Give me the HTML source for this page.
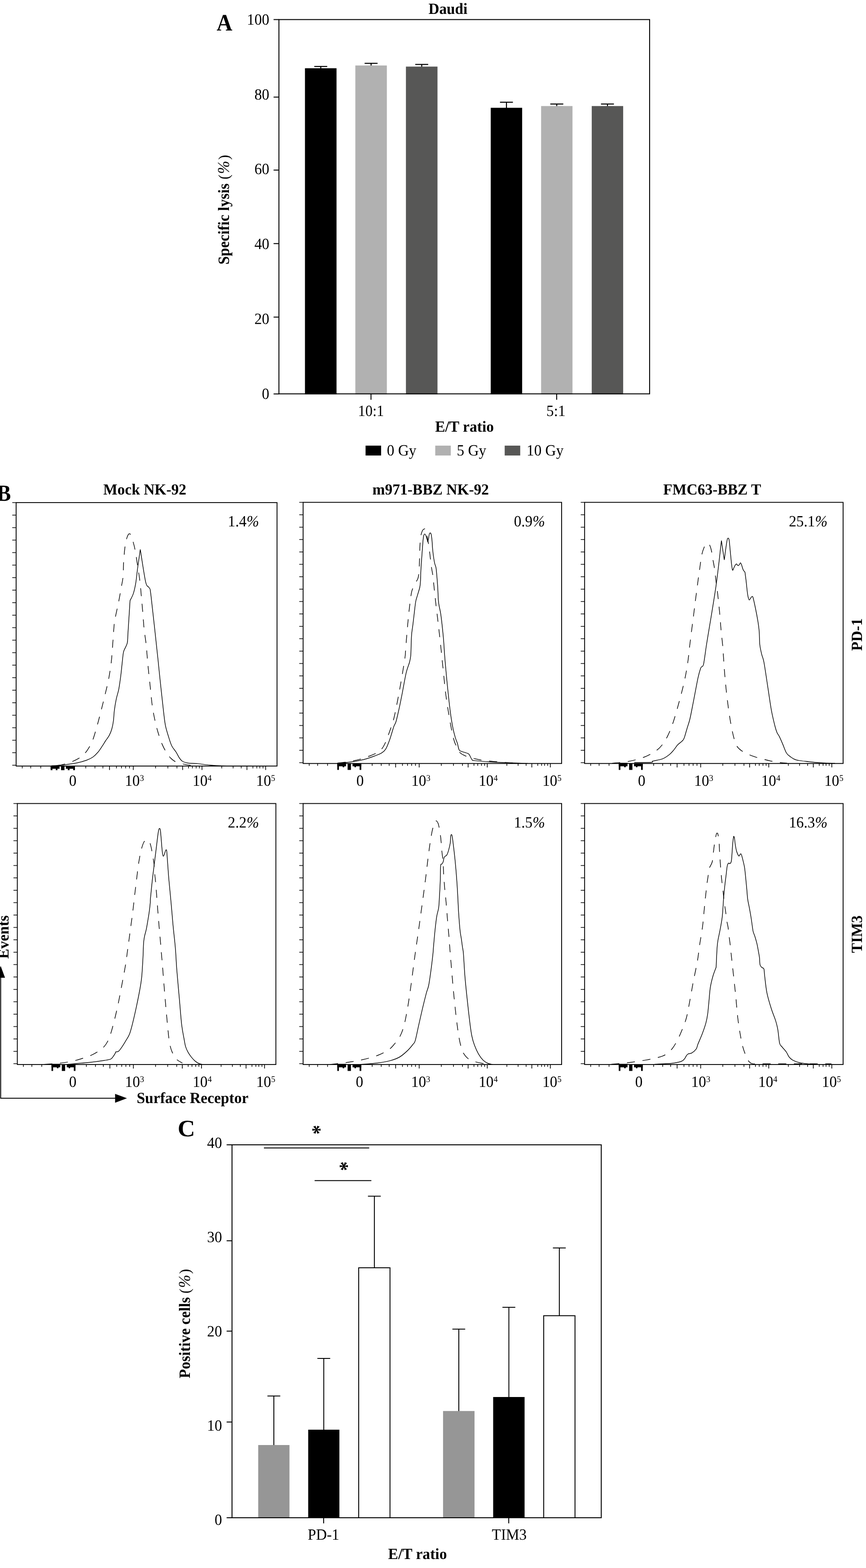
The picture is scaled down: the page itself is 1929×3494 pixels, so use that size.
<!DOCTYPE html>
<html lang="en"><head><meta charset="utf-8"><title>Figure</title>
<style>
html,body{margin:0;padding:0;background:#fff;}
body{width:1929px;height:3494px;overflow:hidden;}
svg{display:block;font-family:'Liberation Serif', serif;text-rendering:geometricPrecision;}
svg text{fill:#000;}
svg line{stroke:#000;}
</style></head><body>
<svg width="1929" height="3494" viewBox="0 0 1929 3494">
<rect width="1929" height="3494" fill="#fff"/>
<g id="panelA">
<text transform="translate(482.6 68.1) scale(1 1.083)" font-size="48.6" font-weight="bold">A</text>
<text transform="translate(997.9 31.3) scale(1 1.05)" font-size="33.2" font-weight="bold" text-anchor="middle">Daudi</text>
<line x1="714.5" y1="148.1" x2="714.5" y2="153.1" stroke-width="2.3"/>
<line x1="700.1" y1="148.1" x2="728.9" y2="148.1" stroke-width="2.3"/>
<rect x="679.3" y="152.1" width="70.3" height="726.5" fill="#000" stroke="none"/>
<line x1="826.6" y1="141.1" x2="826.6" y2="146.9" stroke-width="2.3"/>
<line x1="812.2" y1="141.1" x2="841.0" y2="141.1" stroke-width="2.3"/>
<rect x="791.5" y="145.9" width="70.2" height="732.7" fill="#b1b1b1" stroke="none"/>
<line x1="939.4" y1="143.6" x2="939.4" y2="149.4" stroke-width="2.3"/>
<line x1="925.0" y1="143.6" x2="953.8" y2="143.6" stroke-width="2.3"/>
<rect x="904.2" y="148.4" width="70.3" height="730.2" fill="#575756" stroke="none"/>
<line x1="1128.1" y1="227.8" x2="1128.1" y2="241.2" stroke-width="2.3"/>
<line x1="1113.7" y1="227.8" x2="1142.5" y2="227.8" stroke-width="2.3"/>
<rect x="1093.1" y="240.2" width="70.0" height="638.4" fill="#000" stroke="none"/>
<line x1="1240.2" y1="231.8" x2="1240.2" y2="237.3" stroke-width="2.3"/>
<line x1="1225.8" y1="231.8" x2="1254.7" y2="231.8" stroke-width="2.3"/>
<rect x="1205.3" y="236.3" width="69.9" height="642.3" fill="#b1b1b1" stroke="none"/>
<line x1="1353.1" y1="231.8" x2="1353.1" y2="237.3" stroke-width="2.3"/>
<line x1="1338.7" y1="231.8" x2="1367.5" y2="231.8" stroke-width="2.3"/>
<rect x="1318.1" y="236.3" width="70.0" height="642.3" fill="#575756" stroke="none"/>
<rect x="621.3" y="43.6" width="825.7" height="834.0" fill="none" stroke="#000" stroke-width="2.1"/>
<line x1="609.4" y1="43.6" x2="621.3" y2="43.6" stroke-width="2.1"/>
<text transform="translate(600 55.0) scale(1 1.05)" font-size="33.3" text-anchor="end">100</text>
<line x1="609.4" y1="216.4" x2="621.3" y2="216.4" stroke-width="2.1"/>
<text transform="translate(600 221.7) scale(1 1.05)" font-size="33.3" text-anchor="end">80</text>
<line x1="609.4" y1="379.0" x2="621.3" y2="379.0" stroke-width="2.1"/>
<text transform="translate(600 388.4) scale(1 1.05)" font-size="33.3" text-anchor="end">60</text>
<line x1="609.4" y1="542.8" x2="621.3" y2="542.8" stroke-width="2.1"/>
<text transform="translate(600 555.1) scale(1 1.05)" font-size="33.3" text-anchor="end">40</text>
<line x1="609.4" y1="706.6" x2="621.3" y2="706.6" stroke-width="2.1"/>
<text transform="translate(600 721.8) scale(1 1.05)" font-size="33.3" text-anchor="end">20</text>
<line x1="609.4" y1="877.8" x2="621.3" y2="877.8" stroke-width="2.1"/>
<text transform="translate(600 888.5) scale(1 1.05)" font-size="33.3" text-anchor="end">0</text>
<line x1="826.4" y1="877.6" x2="826.4" y2="890.8" stroke-width="2.1"/>
<line x1="1240.0" y1="877.6" x2="1240.0" y2="890.8" stroke-width="2.1"/>
<text transform="translate(826.4 926.9) scale(1 1.05)" font-size="33.3" text-anchor="middle" textLength="57.8" lengthAdjust="spacingAndGlyphs">10:1</text>
<text transform="translate(1238.4 926.9) scale(1 1.05)" font-size="33.3" text-anchor="middle">5:1</text>
<text transform="translate(1034.6 961.7) scale(1 1.03)" font-size="33.6" font-weight="bold" text-anchor="middle">E/T ratio</text>
<text transform="translate(510.2 589.6) rotate(-90) scale(1 1.05)" font-size="33.4" font-weight="bold">Specific lysis <tspan x="189.8" font-weight="normal" font-size="32.5">(</tspan><tspan x="202.2" font-weight="normal" font-style="italic" font-size="35">%</tspan><tspan x="233.5" font-weight="normal" font-size="32.5">)</tspan></text>
<rect x="814.3" y="993.0" width="34.6" height="22.0" fill="#000" stroke="none"/>
<text transform="translate(861.8 1014.8) scale(1 1.05)" font-size="33.3">0 Gy</text>
<rect x="969.5" y="993.0" width="34.6" height="22.0" fill="#b1b1b1" stroke="none"/>
<text transform="translate(1017.5 1014.8) scale(1 1.05)" font-size="33.3">5 Gy</text>
<rect x="1124.2" y="993.0" width="34.6" height="22.0" fill="#575756" stroke="none"/>
<text transform="translate(1173.0 1014.8) scale(1 1.05)" font-size="33.3">10 Gy</text>
</g>
<g id="panelB">
<text transform="translate(-6.85 1115.95) scale(1 1.108)" font-size="46.5" font-weight="bold">B</text>
<text transform="translate(322.5 1102.4) scale(1 1.03)" font-size="33.5" font-weight="bold" text-anchor="middle">Mock NK-92</text>
<text transform="translate(959.3 1102.4) scale(1 1.03)" font-size="33.5" font-weight="bold" text-anchor="middle">m971-BBZ NK-92</text>
<text transform="translate(1586.4 1102.4) scale(1 1.03)" font-size="33.5" font-weight="bold" text-anchor="middle">FMC63-BBZ T</text>
<g id="hist1">
<path d="M116.9 1706.7C120.2 1706.3 130.0 1705.7 136.6 1704.4C143.2 1703.1 150.2 1701.0 156.3 1698.8C162.4 1696.6 167.9 1694.2 173.1 1691.2C178.2 1688.2 183.2 1684.4 187.2 1680.5C191.2 1676.6 193.7 1673.2 197.0 1667.8C200.3 1662.4 203.6 1656.9 206.9 1648.2C210.2 1639.5 213.6 1626.6 216.7 1615.8C219.8 1605.0 222.4 1594.5 225.2 1583.5C228.0 1572.5 230.8 1561.4 233.6 1549.7C236.4 1538.0 239.7 1525.3 242.0 1513.1C244.3 1500.9 246.3 1488.0 247.7 1476.6C249.1 1465.2 249.3 1458.9 250.4 1444.8C251.5 1430.7 253.2 1403.6 254.3 1392.0C255.4 1380.4 255.3 1383.8 257.0 1375.2C258.7 1366.6 262.1 1352.0 264.4 1340.4C266.7 1328.8 269.1 1314.6 270.7 1305.6C272.3 1296.6 273.1 1295.4 273.9 1286.6C274.7 1277.8 274.7 1263.7 275.4 1252.8C276.1 1241.9 277.0 1229.8 278.1 1221.2C279.2 1212.6 280.7 1206.0 281.9 1201.1C283.1 1196.2 284.5 1193.5 285.5 1191.6C286.5 1189.7 287.1 1189.5 288.0 1189.5C288.9 1189.5 289.3 1188.2 290.8 1191.6C292.3 1194.9 295.4 1203.6 297.1 1209.6C298.9 1215.6 299.7 1218.9 301.3 1227.5C302.9 1236.1 304.8 1249.7 306.6 1261.3C308.4 1272.9 310.5 1285.5 311.9 1297.1C313.3 1308.7 313.9 1319.3 315.0 1330.9C316.1 1342.5 317.2 1355.2 318.2 1366.8C319.2 1378.4 319.7 1388.9 320.9 1400.5C322.1 1412.1 324.5 1426.5 325.6 1436.4C326.7 1446.3 326.9 1451.4 327.6 1460.0C328.4 1468.6 328.9 1475.7 330.1 1487.8C331.3 1499.9 333.4 1518.7 334.9 1532.8C336.4 1546.9 337.5 1560.5 339.1 1572.2C340.7 1583.9 342.6 1593.4 344.7 1603.2C346.8 1613.0 349.0 1621.9 351.8 1631.3C354.6 1640.7 358.3 1651.7 361.6 1659.4C364.9 1667.1 368.1 1672.5 371.4 1677.7C374.7 1682.9 377.6 1686.9 381.3 1690.4C385.1 1693.9 388.3 1696.5 393.9 1698.8C399.5 1701.0 408.7 1702.7 415.0 1703.9C421.3 1705.1 429.1 1705.5 431.9 1705.8" fill="none" stroke="#000" stroke-width="1.45" stroke-dasharray="17.9 17" stroke-dashoffset="24.4"/>
<path d="M114.0 1706.5C118.2 1706.2 130.0 1705.5 139.4 1704.4C148.8 1703.4 161.4 1701.9 170.3 1700.2C179.2 1698.5 186.7 1696.2 192.8 1694.0C198.9 1691.8 202.7 1690.0 206.9 1687.0C211.1 1684.0 214.6 1680.4 218.1 1676.3C221.6 1672.2 225.2 1666.4 228.0 1662.2C230.8 1658.0 232.4 1655.0 235.0 1651.0C237.6 1647.0 241.2 1642.8 243.5 1638.3C245.8 1633.8 247.6 1629.6 249.1 1624.2C250.6 1618.8 251.8 1612.8 252.7 1606.0C253.6 1599.2 253.7 1591.5 254.7 1583.5C255.7 1575.5 257.2 1566.1 258.9 1558.1C260.5 1550.1 263.0 1544.0 264.6 1535.6C266.2 1527.2 267.5 1517.3 268.8 1507.5C270.1 1497.7 271.3 1484.5 272.2 1476.6C273.1 1468.7 273.4 1464.4 274.0 1460.0C274.6 1455.6 274.4 1454.5 276.0 1450.0C277.6 1445.5 281.9 1439.3 283.4 1433.2C284.9 1427.1 284.2 1423.6 284.9 1413.2C285.6 1402.8 286.8 1383.5 287.6 1371.0C288.4 1358.5 289.4 1343.8 289.7 1338.3C290.9 1335.7 295.0 1328.9 297.1 1322.4C299.2 1315.9 300.8 1308.7 302.4 1299.2C304.0 1289.7 304.9 1278.0 306.6 1265.5C308.3 1253.0 311.5 1231.2 312.5 1224.3C314.5 1236.4 321.2 1282.8 324.5 1297.1C327.8 1311.3 330.3 1304.5 332.3 1309.8C334.3 1315.1 333.4 1303.8 336.5 1328.8C339.6 1353.8 348.1 1434.4 350.9 1460.0C353.7 1485.6 351.9 1469.6 353.2 1482.2C354.5 1494.8 356.9 1518.2 358.8 1535.6C360.7 1552.9 362.8 1572.7 364.4 1586.3C366.0 1599.9 366.7 1607.8 368.6 1617.2C370.5 1626.6 373.4 1635.0 375.7 1642.5C378.0 1650.0 379.9 1656.6 382.7 1662.2C385.5 1667.8 389.7 1671.8 392.5 1676.3C395.3 1680.8 397.2 1685.6 399.6 1689.0C402.0 1692.4 403.6 1694.6 406.6 1696.5C409.7 1698.4 412.3 1699.4 417.9 1700.2C423.5 1701.0 432.9 1700.9 440.4 1701.6C447.9 1702.3 454.0 1703.6 462.9 1704.4C471.8 1705.2 477.6 1706.1 493.8 1706.5C510.0 1706.9 549.0 1706.8 560.0 1706.8" fill="none" stroke="#000" stroke-width="1.45"/>
<rect x="35.9" y="1119.9" width="581.2" height="587.1" fill="none" stroke="#000" stroke-width="1.9"/>
<line x1="27.3" y1="1705.2" x2="35.9" y2="1705.2" stroke-width="1.5"/>
<line x1="27.3" y1="1677.3" x2="35.9" y2="1677.3" stroke-width="1.5"/>
<line x1="27.3" y1="1649.5" x2="35.9" y2="1649.5" stroke-width="1.5"/>
<line x1="27.3" y1="1621.6" x2="35.9" y2="1621.6" stroke-width="1.5"/>
<line x1="27.3" y1="1593.7" x2="35.9" y2="1593.7" stroke-width="1.5"/>
<line x1="27.3" y1="1565.9" x2="35.9" y2="1565.9" stroke-width="1.5"/>
<line x1="27.3" y1="1538.0" x2="35.9" y2="1538.0" stroke-width="1.5"/>
<line x1="27.3" y1="1510.1" x2="35.9" y2="1510.1" stroke-width="1.5"/>
<line x1="27.3" y1="1482.2" x2="35.9" y2="1482.2" stroke-width="1.5"/>
<line x1="27.3" y1="1454.4" x2="35.9" y2="1454.4" stroke-width="1.5"/>
<line x1="27.3" y1="1426.5" x2="35.9" y2="1426.5" stroke-width="1.5"/>
<line x1="27.3" y1="1398.6" x2="35.9" y2="1398.6" stroke-width="1.5"/>
<line x1="27.3" y1="1370.8" x2="35.9" y2="1370.8" stroke-width="1.5"/>
<line x1="27.3" y1="1342.9" x2="35.9" y2="1342.9" stroke-width="1.5"/>
<line x1="27.3" y1="1315.0" x2="35.9" y2="1315.0" stroke-width="1.5"/>
<line x1="27.3" y1="1287.2" x2="35.9" y2="1287.2" stroke-width="1.5"/>
<line x1="27.3" y1="1259.3" x2="35.9" y2="1259.3" stroke-width="1.5"/>
<line x1="27.3" y1="1231.4" x2="35.9" y2="1231.4" stroke-width="1.5"/>
<line x1="27.3" y1="1203.5" x2="35.9" y2="1203.5" stroke-width="1.5"/>
<line x1="27.3" y1="1175.7" x2="35.9" y2="1175.7" stroke-width="1.5"/>
<line x1="27.3" y1="1147.8" x2="35.9" y2="1147.8" stroke-width="1.5"/>
<line x1="27.3" y1="1119.9" x2="35.9" y2="1119.9" stroke-width="1.5"/>
<line x1="49.5" y1="1707.0" x2="49.5" y2="1712.2" stroke-width="1.5"/>
<line x1="68.5" y1="1707.0" x2="68.5" y2="1712.2" stroke-width="1.5"/>
<line x1="90.8" y1="1707.0" x2="90.8" y2="1712.2" stroke-width="1.5"/>
<line x1="191.1" y1="1707.0" x2="191.1" y2="1712.2" stroke-width="1.5"/>
<line x1="211.5" y1="1707.0" x2="211.5" y2="1712.2" stroke-width="1.5"/>
<line x1="229.3" y1="1707.0" x2="229.3" y2="1712.2" stroke-width="1.5"/>
<line x1="259.3" y1="1707.0" x2="259.3" y2="1712.2" stroke-width="1.5"/>
<line x1="270.6" y1="1707.0" x2="270.6" y2="1712.2" stroke-width="1.5"/>
<line x1="279.9" y1="1707.0" x2="279.9" y2="1712.2" stroke-width="1.5"/>
<line x1="288.5" y1="1707.0" x2="288.5" y2="1712.2" stroke-width="1.5"/>
<line x1="346.6" y1="1707.0" x2="346.6" y2="1712.2" stroke-width="1.5"/>
<line x1="373.9" y1="1707.0" x2="373.9" y2="1712.2" stroke-width="1.5"/>
<line x1="394.2" y1="1707.0" x2="394.2" y2="1712.2" stroke-width="1.5"/>
<line x1="420.0" y1="1707.0" x2="420.0" y2="1712.2" stroke-width="1.5"/>
<line x1="428.5" y1="1707.0" x2="428.5" y2="1712.2" stroke-width="1.5"/>
<line x1="436.9" y1="1707.0" x2="436.9" y2="1712.2" stroke-width="1.5"/>
<line x1="444.0" y1="1707.0" x2="444.0" y2="1712.2" stroke-width="1.5"/>
<line x1="494.0" y1="1707.0" x2="494.0" y2="1712.2" stroke-width="1.5"/>
<line x1="519.3" y1="1707.0" x2="519.3" y2="1712.2" stroke-width="1.5"/>
<line x1="537.3" y1="1707.0" x2="537.3" y2="1712.2" stroke-width="1.5"/>
<line x1="563.4" y1="1707.0" x2="563.4" y2="1712.2" stroke-width="1.5"/>
<line x1="572.1" y1="1707.0" x2="572.1" y2="1712.2" stroke-width="1.5"/>
<line x1="578.7" y1="1707.0" x2="578.7" y2="1712.2" stroke-width="1.5"/>
<line x1="585.8" y1="1707.0" x2="585.8" y2="1712.2" stroke-width="1.5"/>
<line x1="243.9" y1="1707.0" x2="243.9" y2="1715.8" stroke-width="1.6"/>
<line x1="296.8" y1="1707.0" x2="296.8" y2="1715.8" stroke-width="1.6"/>
<line x1="406.8" y1="1707.0" x2="406.8" y2="1715.8" stroke-width="1.6"/>
<line x1="449.9" y1="1707.0" x2="449.9" y2="1715.8" stroke-width="1.6"/>
<line x1="550.1" y1="1707.0" x2="550.1" y2="1715.8" stroke-width="1.6"/>
<line x1="591.7" y1="1707.0" x2="591.7" y2="1715.8" stroke-width="1.6"/>
<rect x="112.8" y="1707.0" width="19.8" height="6.0" fill="#000" stroke="none"/>
<rect x="112.8" y="1707.0" width="4.0" height="9.2" fill="#000" stroke="none"/>
<rect x="124.2" y="1707.0" width="3.8" height="9.2" fill="#000" stroke="none"/>
<rect x="136.0" y="1705.5" width="7.6" height="10.7" fill="#000" stroke="none"/>
<rect x="146.7" y="1707.0" width="20.2" height="6.0" fill="#000" stroke="none"/>
<rect x="150.9" y="1707.0" width="4.0" height="9.2" fill="#000" stroke="none"/>
<rect x="163.0" y="1707.0" width="3.9" height="9.2" fill="#000" stroke="none"/>
<text transform="translate(162.0 1751.0) scale(1 1.05)" font-size="33.3" text-anchor="middle">0</text>
<text transform="translate(278.2 1751.0) scale(1 1.05)" font-size="33.3">10<tspan font-size="18.5" dy="-10.4">3</tspan></text>
<text transform="translate(429.0 1751.0) scale(1 1.05)" font-size="33.3">10<tspan font-size="18.5" dy="-10.4">4</tspan></text>
<text transform="translate(570.5 1751.0) scale(1 1.05)" font-size="33.3">10<tspan font-size="18.5" dy="-10.4">5</tspan></text>
<text transform="translate(576.9 1172.7) scale(1 1.05)" font-size="33.3" text-anchor="end">1.4<tspan font-style="italic">%</tspan></text>
</g>
<g id="hist2">
<path d="M752.0 1700.5C755.9 1700.0 766.7 1698.9 775.2 1697.4C783.8 1695.9 793.3 1694.3 803.3 1691.4C813.2 1688.5 827.3 1683.3 834.9 1679.8C842.5 1676.3 845.2 1674.2 849.0 1670.3C852.8 1666.4 854.9 1662.3 857.8 1656.2C860.7 1650.1 863.4 1642.5 866.6 1633.4C869.8 1624.3 873.9 1614.0 877.1 1601.7C880.3 1589.4 883.2 1573.0 885.9 1559.5C888.5 1546.0 890.6 1534.4 893.0 1520.9C895.4 1507.4 898.4 1488.9 900.0 1478.7C901.6 1468.5 902.0 1466.7 902.7 1460.0C903.4 1453.3 903.3 1449.8 904.2 1438.5C905.1 1427.2 906.9 1405.0 908.1 1392.1C909.3 1379.2 910.1 1371.4 911.2 1361.1C912.4 1350.8 913.9 1337.9 915.0 1330.2C916.1 1322.5 916.3 1320.0 918.1 1314.7C919.9 1309.4 923.8 1302.6 925.9 1298.5C928.0 1294.4 929.4 1292.7 930.5 1290.0C931.6 1287.3 931.8 1286.6 932.4 1282.2C933.0 1277.8 933.5 1271.2 933.9 1263.7C934.3 1256.2 934.5 1245.9 934.8 1237.4C935.1 1228.9 935.2 1219.7 935.6 1212.6C936.0 1205.5 936.4 1199.7 937.2 1194.8C938.0 1189.9 939.6 1185.7 940.6 1183.2C941.6 1180.7 942.3 1180.6 943.3 1179.8C944.3 1179.0 945.7 1177.8 946.7 1178.5C947.7 1179.2 948.7 1181.2 949.5 1184.0C950.3 1186.8 950.6 1191.0 951.4 1195.6C952.2 1200.2 953.5 1205.9 954.5 1211.8C955.5 1217.7 956.3 1225.1 957.1 1231.2C957.9 1237.3 958.4 1242.4 959.1 1248.2C959.8 1254.0 960.5 1260.2 961.4 1266.0C962.2 1271.8 963.3 1275.9 964.2 1283.0C965.1 1290.1 965.8 1298.3 966.9 1308.5C968.0 1318.7 969.4 1332.4 970.7 1344.1C972.0 1355.8 973.5 1367.4 974.9 1378.9C976.2 1390.4 977.5 1401.7 978.8 1413.0C980.1 1424.3 981.6 1439.2 982.5 1447.0C983.4 1454.8 983.3 1454.1 983.9 1460.0C984.5 1465.9 984.5 1467.4 986.1 1482.2C987.7 1497.0 990.6 1528.5 993.2 1549.0C995.9 1569.5 999.1 1588.9 1002.0 1605.3C1004.9 1621.7 1008.1 1637.5 1010.7 1647.5C1013.3 1657.5 1015.4 1660.0 1017.8 1665.0C1020.1 1670.0 1021.3 1673.9 1024.8 1677.3C1028.3 1680.7 1033.6 1683.2 1038.9 1685.4C1044.2 1687.6 1050.7 1689.0 1056.5 1690.4C1062.3 1691.8 1065.2 1692.7 1074.0 1693.9C1082.8 1695.1 1097.5 1696.7 1109.2 1697.7C1120.9 1698.8 1138.5 1699.8 1144.4 1700.2" fill="none" stroke="#000" stroke-width="1.45" stroke-dasharray="17.9 17" stroke-dashoffset="0"/>
<path d="M752.3 1700.9C757.3 1700.4 772.5 1699.1 782.2 1697.7C791.9 1696.3 801.5 1694.7 810.3 1692.5C819.1 1690.3 828.1 1686.9 834.9 1684.4C841.6 1681.9 846.7 1679.9 850.8 1677.3C854.9 1674.7 856.6 1673.6 859.5 1668.6C862.4 1663.6 865.4 1655.7 868.3 1647.5C871.2 1639.3 874.8 1626.0 877.1 1619.3C879.5 1612.5 880.4 1614.0 882.4 1607.0C884.4 1600.0 887.0 1587.9 889.4 1577.1C891.8 1566.3 894.0 1554.9 896.5 1542.0C899.0 1529.1 902.0 1510.9 904.6 1499.8C907.2 1488.7 910.6 1481.7 912.3 1475.2C914.0 1468.7 914.3 1467.1 914.9 1461.0C915.5 1454.9 915.5 1446.4 915.8 1438.5C916.1 1430.6 916.2 1421.4 916.9 1413.7C917.5 1406.0 918.7 1400.1 919.7 1392.1C920.7 1384.1 921.8 1374.3 922.8 1365.8C923.8 1357.3 924.8 1347.5 925.9 1341.0C927.0 1334.5 928.2 1332.5 929.7 1327.1C931.2 1321.7 933.9 1314.2 935.1 1308.5C936.3 1302.8 936.3 1299.3 936.7 1293.1C937.1 1286.9 937.0 1280.7 937.5 1271.4C938.0 1262.1 939.0 1248.2 939.8 1237.4C940.6 1226.6 941.5 1213.6 942.1 1206.4C942.8 1199.2 943.1 1196.8 943.7 1194.0C944.4 1191.2 945.2 1190.2 946.0 1189.9C946.8 1189.7 947.4 1190.7 948.3 1192.5C949.1 1194.3 950.3 1198.4 951.1 1201.0C951.9 1203.6 952.6 1206.8 952.9 1208.0C953.2 1206.7 953.9 1203.2 954.5 1200.2C955.1 1197.2 955.6 1192.3 956.3 1190.2C956.9 1188.1 957.7 1187.4 958.4 1187.5C959.1 1187.6 959.8 1188.3 960.4 1190.9C961.0 1193.5 961.6 1197.6 962.2 1203.3C962.8 1209.0 963.1 1218.3 963.8 1225.0C964.4 1231.7 965.3 1238.3 966.1 1243.5C966.9 1248.7 967.5 1252.3 968.4 1255.9C969.2 1259.5 970.4 1260.6 971.2 1265.2C972.0 1269.8 972.5 1276.8 973.1 1283.8C973.7 1290.8 974.3 1298.0 974.9 1307.0C975.5 1316.0 975.9 1330.4 976.5 1337.9C977.1 1345.4 977.6 1346.9 978.5 1351.8C979.4 1356.7 980.6 1360.6 981.6 1367.3C982.6 1374.0 983.7 1382.8 984.7 1392.1C985.7 1401.4 986.8 1411.7 987.8 1423.0C988.8 1434.3 989.5 1448.4 990.4 1460.0C991.3 1471.6 991.9 1478.5 993.2 1492.7C994.5 1507.0 996.6 1529.1 998.4 1545.5C1000.1 1561.9 1001.9 1578.3 1003.7 1591.2C1005.5 1604.1 1007.2 1614.0 1009.0 1622.8C1010.8 1631.6 1012.7 1638.3 1014.3 1643.9C1015.9 1649.5 1017.4 1651.8 1018.8 1656.2C1020.1 1660.6 1021.1 1667.4 1022.4 1670.3C1023.7 1673.2 1023.3 1672.3 1026.6 1673.8C1029.9 1675.3 1039.2 1677.6 1042.4 1679.1C1045.6 1680.6 1044.4 1680.4 1045.9 1682.6C1047.4 1684.8 1049.4 1690.5 1051.2 1692.5C1053.0 1694.5 1049.8 1694.0 1056.5 1694.9C1063.2 1695.8 1079.9 1696.9 1091.6 1697.7C1103.3 1698.5 1112.7 1698.9 1126.8 1699.5C1140.9 1700.1 1167.8 1701.0 1176.0 1701.3" fill="none" stroke="#000" stroke-width="1.45"/>
<rect x="675.2" y="1119.4" width="575.8" height="581.9" fill="none" stroke="#000" stroke-width="1.9"/>
<line x1="666.6" y1="1699.5" x2="675.2" y2="1699.5" stroke-width="1.5"/>
<line x1="666.6" y1="1671.9" x2="675.2" y2="1671.9" stroke-width="1.5"/>
<line x1="666.6" y1="1644.3" x2="675.2" y2="1644.3" stroke-width="1.5"/>
<line x1="666.6" y1="1616.6" x2="675.2" y2="1616.6" stroke-width="1.5"/>
<line x1="666.6" y1="1589.0" x2="675.2" y2="1589.0" stroke-width="1.5"/>
<line x1="666.6" y1="1561.4" x2="675.2" y2="1561.4" stroke-width="1.5"/>
<line x1="666.6" y1="1533.8" x2="675.2" y2="1533.8" stroke-width="1.5"/>
<line x1="666.6" y1="1506.1" x2="675.2" y2="1506.1" stroke-width="1.5"/>
<line x1="666.6" y1="1478.5" x2="675.2" y2="1478.5" stroke-width="1.5"/>
<line x1="666.6" y1="1450.9" x2="675.2" y2="1450.9" stroke-width="1.5"/>
<line x1="666.6" y1="1423.3" x2="675.2" y2="1423.3" stroke-width="1.5"/>
<line x1="666.6" y1="1395.7" x2="675.2" y2="1395.7" stroke-width="1.5"/>
<line x1="666.6" y1="1368.0" x2="675.2" y2="1368.0" stroke-width="1.5"/>
<line x1="666.6" y1="1340.4" x2="675.2" y2="1340.4" stroke-width="1.5"/>
<line x1="666.6" y1="1312.8" x2="675.2" y2="1312.8" stroke-width="1.5"/>
<line x1="666.6" y1="1285.2" x2="675.2" y2="1285.2" stroke-width="1.5"/>
<line x1="666.6" y1="1257.5" x2="675.2" y2="1257.5" stroke-width="1.5"/>
<line x1="666.6" y1="1229.9" x2="675.2" y2="1229.9" stroke-width="1.5"/>
<line x1="666.6" y1="1202.3" x2="675.2" y2="1202.3" stroke-width="1.5"/>
<line x1="666.6" y1="1174.7" x2="675.2" y2="1174.7" stroke-width="1.5"/>
<line x1="666.6" y1="1147.1" x2="675.2" y2="1147.1" stroke-width="1.5"/>
<line x1="666.6" y1="1119.4" x2="675.2" y2="1119.4" stroke-width="1.5"/>
<line x1="688.7" y1="1701.3" x2="688.7" y2="1706.5" stroke-width="1.5"/>
<line x1="707.5" y1="1701.3" x2="707.5" y2="1706.5" stroke-width="1.5"/>
<line x1="729.6" y1="1701.3" x2="729.6" y2="1706.5" stroke-width="1.5"/>
<line x1="829.0" y1="1701.3" x2="829.0" y2="1706.5" stroke-width="1.5"/>
<line x1="849.2" y1="1701.3" x2="849.2" y2="1706.5" stroke-width="1.5"/>
<line x1="866.8" y1="1701.3" x2="866.8" y2="1706.5" stroke-width="1.5"/>
<line x1="896.5" y1="1701.3" x2="896.5" y2="1706.5" stroke-width="1.5"/>
<line x1="907.7" y1="1701.3" x2="907.7" y2="1706.5" stroke-width="1.5"/>
<line x1="916.9" y1="1701.3" x2="916.9" y2="1706.5" stroke-width="1.5"/>
<line x1="925.5" y1="1701.3" x2="925.5" y2="1706.5" stroke-width="1.5"/>
<line x1="983.0" y1="1701.3" x2="983.0" y2="1706.5" stroke-width="1.5"/>
<line x1="1010.1" y1="1701.3" x2="1010.1" y2="1706.5" stroke-width="1.5"/>
<line x1="1030.2" y1="1701.3" x2="1030.2" y2="1706.5" stroke-width="1.5"/>
<line x1="1055.7" y1="1701.3" x2="1055.7" y2="1706.5" stroke-width="1.5"/>
<line x1="1064.2" y1="1701.3" x2="1064.2" y2="1706.5" stroke-width="1.5"/>
<line x1="1072.5" y1="1701.3" x2="1072.5" y2="1706.5" stroke-width="1.5"/>
<line x1="1079.5" y1="1701.3" x2="1079.5" y2="1706.5" stroke-width="1.5"/>
<line x1="1129.0" y1="1701.3" x2="1129.0" y2="1706.5" stroke-width="1.5"/>
<line x1="1154.1" y1="1701.3" x2="1154.1" y2="1706.5" stroke-width="1.5"/>
<line x1="1171.9" y1="1701.3" x2="1171.9" y2="1706.5" stroke-width="1.5"/>
<line x1="1197.8" y1="1701.3" x2="1197.8" y2="1706.5" stroke-width="1.5"/>
<line x1="1206.4" y1="1701.3" x2="1206.4" y2="1706.5" stroke-width="1.5"/>
<line x1="1213.0" y1="1701.3" x2="1213.0" y2="1706.5" stroke-width="1.5"/>
<line x1="1220.0" y1="1701.3" x2="1220.0" y2="1706.5" stroke-width="1.5"/>
<line x1="881.3" y1="1701.3" x2="881.3" y2="1710.1" stroke-width="1.6"/>
<line x1="933.7" y1="1701.3" x2="933.7" y2="1710.1" stroke-width="1.6"/>
<line x1="1042.7" y1="1701.3" x2="1042.7" y2="1710.1" stroke-width="1.6"/>
<line x1="1085.4" y1="1701.3" x2="1085.4" y2="1710.1" stroke-width="1.6"/>
<line x1="1184.6" y1="1701.3" x2="1184.6" y2="1710.1" stroke-width="1.6"/>
<line x1="1225.8" y1="1701.3" x2="1225.8" y2="1710.1" stroke-width="1.6"/>
<rect x="751.3" y="1699.8" width="19.5" height="7.7" fill="#000" stroke="none"/>
<rect x="751.3" y="1701.3" width="3.6" height="14.3" fill="#000" stroke="none"/>
<rect x="763.2" y="1701.3" width="3.7" height="8.3" fill="#000" stroke="none"/>
<rect x="774.3" y="1701.3" width="7.4" height="14.3" fill="#000" stroke="none"/>
<rect x="785.3" y="1701.3" width="19.4" height="6.2" fill="#000" stroke="none"/>
<rect x="789.5" y="1701.3" width="3.4" height="8.3" fill="#000" stroke="none"/>
<rect x="801.0" y="1701.3" width="3.7" height="14.3" fill="#000" stroke="none"/>
<text transform="translate(802.1 1751.0) scale(1 1.05)" font-size="33.3" text-anchor="middle">0</text>
<text transform="translate(916.2 1751.0) scale(1 1.05)" font-size="33.3">10<tspan font-size="18.5" dy="-10.4">3</tspan></text>
<text transform="translate(1066.2 1751.0) scale(1 1.05)" font-size="33.3">10<tspan font-size="18.5" dy="-10.4">4</tspan></text>
<text transform="translate(1208.2 1751.0) scale(1 1.05)" font-size="33.3">10<tspan font-size="18.5" dy="-10.4">5</tspan></text>
<text transform="translate(1214.0 1172.7) scale(1 1.05)" font-size="33.3" text-anchor="end">0.9<tspan font-style="italic">%</tspan></text>
</g>
<g id="hist3">
<path d="M1363.6 1700.7C1369.5 1700.0 1387.3 1699.0 1399.1 1696.8C1410.9 1694.6 1424.0 1691.4 1434.5 1687.3C1445.0 1683.2 1455.2 1677.2 1462.1 1672.4C1469.0 1667.6 1471.6 1664.2 1475.9 1658.6C1480.2 1653.0 1483.8 1647.1 1487.7 1638.9C1491.6 1630.7 1495.2 1622.2 1499.5 1609.4C1503.8 1596.6 1509.0 1577.9 1513.3 1562.1C1517.6 1546.3 1522.0 1529.1 1525.1 1514.8C1528.2 1500.5 1530.1 1488.8 1532.0 1476.0C1533.9 1463.2 1534.3 1455.3 1536.4 1438.0C1538.5 1420.7 1542.6 1389.1 1544.8 1372.0C1547.0 1354.9 1547.7 1348.5 1549.4 1335.4C1551.1 1322.3 1553.4 1304.7 1554.9 1293.4C1556.4 1282.1 1557.1 1277.2 1558.5 1267.8C1559.9 1258.3 1561.4 1244.8 1563.1 1236.7C1564.8 1228.6 1566.9 1223.4 1568.6 1219.3C1570.3 1215.2 1571.5 1213.4 1573.1 1212.0C1574.7 1210.6 1576.8 1210.0 1578.3 1211.1C1579.8 1212.2 1581.2 1215.5 1582.3 1218.4C1583.4 1221.3 1584.0 1223.6 1585.0 1228.5C1586.0 1233.4 1587.0 1241.5 1588.1 1247.7C1589.2 1253.9 1590.2 1257.7 1591.4 1265.9C1592.6 1274.1 1594.0 1288.5 1595.1 1297.0C1596.2 1305.5 1597.0 1311.0 1597.8 1317.1C1598.6 1323.2 1598.8 1325.1 1599.7 1333.6C1600.6 1342.1 1602.2 1356.7 1603.3 1368.3C1604.4 1379.9 1605.0 1391.5 1606.1 1403.1C1607.2 1414.7 1608.9 1429.0 1609.7 1437.8C1610.5 1446.6 1610.3 1446.2 1611.0 1455.8C1611.7 1465.3 1612.6 1481.3 1613.7 1495.1C1614.8 1508.9 1616.1 1523.4 1617.7 1538.5C1619.3 1553.6 1621.6 1571.9 1623.6 1585.7C1625.6 1599.5 1627.5 1611.0 1629.5 1621.2C1631.5 1631.4 1633.4 1639.9 1635.4 1646.8C1637.4 1653.7 1638.7 1658.2 1641.3 1662.5C1643.9 1666.8 1646.8 1669.3 1651.1 1672.4C1655.4 1675.5 1661.0 1678.4 1666.9 1681.0C1672.8 1683.6 1678.7 1685.7 1686.6 1688.1C1694.5 1690.5 1705.7 1693.3 1714.2 1695.2C1722.7 1697.1 1731.2 1698.3 1737.8 1699.2C1744.3 1700.1 1750.9 1700.5 1753.5 1700.7" fill="none" stroke="#000" stroke-width="1.45" stroke-dasharray="17.9 17" stroke-dashoffset="0"/>
<path d="M1412.9 1699.2C1419.1 1699.1 1443.4 1699.3 1450.3 1698.8C1457.2 1698.3 1449.9 1697.3 1454.2 1696.0C1458.5 1694.7 1469.7 1693.4 1475.9 1690.9C1482.1 1688.4 1487.3 1684.4 1491.6 1681.0C1495.9 1677.6 1498.5 1673.9 1501.5 1670.4C1504.5 1666.9 1506.5 1663.0 1509.4 1659.8C1512.4 1656.6 1516.8 1654.0 1519.2 1651.5C1521.6 1649.0 1521.9 1649.8 1523.9 1644.8C1525.9 1639.8 1528.8 1628.4 1531.0 1621.2C1533.2 1614.0 1534.6 1611.3 1536.9 1601.5C1539.2 1591.7 1541.8 1577.2 1544.8 1562.1C1547.8 1547.0 1552.1 1523.1 1554.7 1510.9C1557.3 1498.8 1559.1 1493.5 1560.6 1489.2C1562.1 1484.9 1562.6 1486.9 1563.7 1485.3C1564.8 1483.7 1565.7 1487.0 1567.3 1479.4C1568.9 1471.9 1571.6 1450.3 1573.2 1440.0C1574.8 1429.7 1574.7 1430.6 1576.8 1417.7C1578.9 1404.8 1582.9 1381.7 1585.9 1362.8C1589.0 1343.9 1592.5 1322.6 1595.1 1304.3C1597.7 1286.0 1599.8 1267.1 1601.5 1253.1C1603.2 1239.1 1604.2 1228.3 1605.1 1220.2C1606.0 1212.1 1606.7 1207.3 1607.0 1204.7C1607.5 1207.9 1608.6 1216.7 1609.7 1223.9C1610.8 1231.1 1612.8 1243.7 1613.4 1247.7C1614.0 1243.1 1615.9 1227.7 1617.0 1220.2C1618.1 1212.7 1619.0 1206.4 1619.8 1202.9C1620.6 1199.4 1621.3 1198.9 1622.1 1199.2C1622.8 1199.5 1623.5 1199.1 1624.3 1204.7C1625.1 1210.3 1626.2 1224.3 1627.1 1233.0C1628.0 1241.7 1628.7 1250.5 1629.5 1256.8C1630.3 1263.0 1630.9 1269.0 1631.7 1270.5C1632.5 1272.0 1633.3 1267.9 1634.4 1265.9C1635.5 1263.9 1637.0 1260.1 1638.1 1258.6C1639.2 1257.1 1639.8 1256.5 1640.8 1256.8C1641.8 1257.1 1643.0 1260.3 1644.1 1260.5C1645.2 1260.7 1646.3 1258.8 1647.2 1257.7C1648.1 1256.6 1648.8 1253.9 1649.6 1254.1C1650.4 1254.2 1650.8 1256.0 1651.8 1258.6C1652.8 1261.2 1654.1 1266.8 1655.4 1269.6C1656.7 1272.3 1658.7 1274.2 1659.4 1275.1C1659.8 1278.1 1660.9 1286.1 1661.8 1293.4C1662.7 1300.7 1663.8 1312.6 1664.6 1319.0C1665.4 1325.4 1666.0 1328.8 1666.8 1331.8C1667.5 1334.8 1668.1 1336.9 1669.1 1336.9C1670.1 1336.9 1671.7 1333.1 1672.8 1331.8C1673.9 1330.5 1674.7 1328.8 1675.5 1329.0C1676.3 1329.2 1676.5 1328.3 1677.7 1332.7C1678.9 1337.1 1681.0 1346.8 1682.8 1355.5C1684.6 1364.2 1686.9 1376.3 1688.3 1384.8C1689.7 1393.3 1690.4 1398.2 1691.1 1406.7C1691.8 1415.2 1691.5 1427.5 1692.4 1436.0C1693.3 1444.5 1695.1 1451.3 1696.6 1457.9C1698.1 1464.5 1699.3 1463.3 1701.6 1475.4C1703.9 1487.5 1707.5 1512.9 1710.2 1530.6C1713.0 1548.3 1715.5 1567.4 1718.1 1581.8C1720.7 1596.2 1723.9 1608.8 1726.0 1617.2C1728.1 1625.6 1729.1 1628.2 1730.7 1632.2C1732.3 1636.2 1733.6 1636.5 1735.8 1640.9C1738.0 1645.3 1741.1 1652.5 1743.7 1658.6C1746.3 1664.7 1749.0 1673.0 1751.6 1677.5C1754.2 1682.0 1755.9 1682.8 1759.5 1685.4C1763.1 1688.0 1766.3 1691.3 1773.2 1693.3C1780.1 1695.3 1791.0 1696.1 1800.8 1697.2C1810.6 1698.3 1822.4 1699.4 1832.3 1700.0C1842.2 1700.6 1855.3 1700.6 1859.9 1700.7" fill="none" stroke="#000" stroke-width="1.45"/>
<rect x="1302.2" y="1119.4" width="575.8" height="581.9" fill="none" stroke="#000" stroke-width="1.9"/>
<line x1="1293.6" y1="1699.5" x2="1302.2" y2="1699.5" stroke-width="1.5"/>
<line x1="1293.6" y1="1671.9" x2="1302.2" y2="1671.9" stroke-width="1.5"/>
<line x1="1293.6" y1="1644.3" x2="1302.2" y2="1644.3" stroke-width="1.5"/>
<line x1="1293.6" y1="1616.6" x2="1302.2" y2="1616.6" stroke-width="1.5"/>
<line x1="1293.6" y1="1589.0" x2="1302.2" y2="1589.0" stroke-width="1.5"/>
<line x1="1293.6" y1="1561.4" x2="1302.2" y2="1561.4" stroke-width="1.5"/>
<line x1="1293.6" y1="1533.8" x2="1302.2" y2="1533.8" stroke-width="1.5"/>
<line x1="1293.6" y1="1506.1" x2="1302.2" y2="1506.1" stroke-width="1.5"/>
<line x1="1293.6" y1="1478.5" x2="1302.2" y2="1478.5" stroke-width="1.5"/>
<line x1="1293.6" y1="1450.9" x2="1302.2" y2="1450.9" stroke-width="1.5"/>
<line x1="1293.6" y1="1423.3" x2="1302.2" y2="1423.3" stroke-width="1.5"/>
<line x1="1293.6" y1="1395.7" x2="1302.2" y2="1395.7" stroke-width="1.5"/>
<line x1="1293.6" y1="1368.0" x2="1302.2" y2="1368.0" stroke-width="1.5"/>
<line x1="1293.6" y1="1340.4" x2="1302.2" y2="1340.4" stroke-width="1.5"/>
<line x1="1293.6" y1="1312.8" x2="1302.2" y2="1312.8" stroke-width="1.5"/>
<line x1="1293.6" y1="1285.2" x2="1302.2" y2="1285.2" stroke-width="1.5"/>
<line x1="1293.6" y1="1257.5" x2="1302.2" y2="1257.5" stroke-width="1.5"/>
<line x1="1293.6" y1="1229.9" x2="1302.2" y2="1229.9" stroke-width="1.5"/>
<line x1="1293.6" y1="1202.3" x2="1302.2" y2="1202.3" stroke-width="1.5"/>
<line x1="1293.6" y1="1174.7" x2="1302.2" y2="1174.7" stroke-width="1.5"/>
<line x1="1293.6" y1="1147.1" x2="1302.2" y2="1147.1" stroke-width="1.5"/>
<line x1="1293.6" y1="1119.4" x2="1302.2" y2="1119.4" stroke-width="1.5"/>
<line x1="1315.7" y1="1701.3" x2="1315.7" y2="1706.5" stroke-width="1.5"/>
<line x1="1334.5" y1="1701.3" x2="1334.5" y2="1706.5" stroke-width="1.5"/>
<line x1="1356.6" y1="1701.3" x2="1356.6" y2="1706.5" stroke-width="1.5"/>
<line x1="1456.0" y1="1701.3" x2="1456.0" y2="1706.5" stroke-width="1.5"/>
<line x1="1476.2" y1="1701.3" x2="1476.2" y2="1706.5" stroke-width="1.5"/>
<line x1="1493.8" y1="1701.3" x2="1493.8" y2="1706.5" stroke-width="1.5"/>
<line x1="1523.5" y1="1701.3" x2="1523.5" y2="1706.5" stroke-width="1.5"/>
<line x1="1534.7" y1="1701.3" x2="1534.7" y2="1706.5" stroke-width="1.5"/>
<line x1="1543.9" y1="1701.3" x2="1543.9" y2="1706.5" stroke-width="1.5"/>
<line x1="1552.5" y1="1701.3" x2="1552.5" y2="1706.5" stroke-width="1.5"/>
<line x1="1610.0" y1="1701.3" x2="1610.0" y2="1706.5" stroke-width="1.5"/>
<line x1="1637.1" y1="1701.3" x2="1637.1" y2="1706.5" stroke-width="1.5"/>
<line x1="1657.2" y1="1701.3" x2="1657.2" y2="1706.5" stroke-width="1.5"/>
<line x1="1682.7" y1="1701.3" x2="1682.7" y2="1706.5" stroke-width="1.5"/>
<line x1="1691.2" y1="1701.3" x2="1691.2" y2="1706.5" stroke-width="1.5"/>
<line x1="1699.5" y1="1701.3" x2="1699.5" y2="1706.5" stroke-width="1.5"/>
<line x1="1706.5" y1="1701.3" x2="1706.5" y2="1706.5" stroke-width="1.5"/>
<line x1="1756.0" y1="1701.3" x2="1756.0" y2="1706.5" stroke-width="1.5"/>
<line x1="1781.1" y1="1701.3" x2="1781.1" y2="1706.5" stroke-width="1.5"/>
<line x1="1798.9" y1="1701.3" x2="1798.9" y2="1706.5" stroke-width="1.5"/>
<line x1="1824.8" y1="1701.3" x2="1824.8" y2="1706.5" stroke-width="1.5"/>
<line x1="1833.4" y1="1701.3" x2="1833.4" y2="1706.5" stroke-width="1.5"/>
<line x1="1840.0" y1="1701.3" x2="1840.0" y2="1706.5" stroke-width="1.5"/>
<line x1="1847.0" y1="1701.3" x2="1847.0" y2="1706.5" stroke-width="1.5"/>
<line x1="1508.3" y1="1701.3" x2="1508.3" y2="1710.1" stroke-width="1.6"/>
<line x1="1560.7" y1="1701.3" x2="1560.7" y2="1710.1" stroke-width="1.6"/>
<line x1="1669.7" y1="1701.3" x2="1669.7" y2="1710.1" stroke-width="1.6"/>
<line x1="1712.4" y1="1701.3" x2="1712.4" y2="1710.1" stroke-width="1.6"/>
<line x1="1811.6" y1="1701.3" x2="1811.6" y2="1710.1" stroke-width="1.6"/>
<line x1="1852.8" y1="1701.3" x2="1852.8" y2="1710.1" stroke-width="1.6"/>
<rect x="1378.3" y="1699.8" width="19.5" height="7.7" fill="#000" stroke="none"/>
<rect x="1378.3" y="1701.3" width="3.6" height="14.3" fill="#000" stroke="none"/>
<rect x="1390.2" y="1701.3" width="3.7" height="8.3" fill="#000" stroke="none"/>
<rect x="1401.3" y="1701.3" width="7.4" height="14.3" fill="#000" stroke="none"/>
<rect x="1412.3" y="1701.3" width="19.4" height="6.2" fill="#000" stroke="none"/>
<rect x="1416.5" y="1701.3" width="3.4" height="8.3" fill="#000" stroke="none"/>
<rect x="1428.0" y="1701.3" width="3.7" height="14.3" fill="#000" stroke="none"/>
<text transform="translate(1429.4 1751.0) scale(1 1.05)" font-size="33.3" text-anchor="middle">0</text>
<text transform="translate(1546.3 1751.0) scale(1 1.05)" font-size="33.3">10<tspan font-size="18.5" dy="-10.4">3</tspan></text>
<text transform="translate(1695.7 1751.0) scale(1 1.05)" font-size="33.3">10<tspan font-size="18.5" dy="-10.4">4</tspan></text>
<text transform="translate(1836.2 1751.0) scale(1 1.05)" font-size="33.3">10<tspan font-size="18.5" dy="-10.4">5</tspan></text>
<text transform="translate(1843.2 1172.7) scale(1 1.05)" font-size="33.3" text-anchor="end">25.1<tspan font-style="italic">%</tspan></text>
</g>
<g id="hist4">
<path d="M98.7 2371.8C104.6 2371.3 122.7 2370.3 133.8 2369.0C144.9 2367.7 154.4 2366.4 165.5 2363.7C176.6 2360.9 191.8 2355.9 200.6 2352.5C209.4 2349.1 213.2 2346.4 218.2 2343.3C223.2 2340.2 227.0 2337.4 230.5 2333.8C234.0 2330.2 236.7 2326.5 239.3 2321.5C242.0 2316.5 243.8 2312.1 246.4 2303.9C249.0 2295.7 252.2 2284.0 255.1 2272.3C258.0 2260.6 261.0 2247.7 263.9 2233.6C266.8 2219.5 270.0 2202.0 272.7 2187.9C275.4 2173.8 277.9 2160.5 279.8 2149.2C281.7 2137.9 282.7 2127.9 283.8 2120.0C284.9 2112.1 285.2 2110.6 286.4 2101.6C287.6 2092.6 289.6 2077.6 291.1 2066.0C292.7 2054.4 294.3 2043.3 295.7 2032.0C297.1 2020.7 298.3 2009.2 299.6 1997.9C300.9 1986.6 302.3 1975.5 303.7 1963.9C305.1 1952.3 306.9 1937.3 308.1 1928.3C309.4 1919.3 310.1 1915.8 311.2 1909.7C312.3 1903.6 313.4 1897.4 315.0 1891.9C316.6 1886.4 318.6 1879.8 320.5 1876.5C322.4 1873.2 324.7 1872.2 326.6 1871.8C328.5 1871.3 330.7 1872.1 332.1 1873.8C333.5 1875.5 334.2 1878.9 335.1 1881.9C336.0 1884.9 336.6 1887.3 337.5 1891.9C338.4 1896.5 339.6 1903.9 340.6 1909.7C341.6 1915.5 342.7 1920.9 343.3 1926.8C343.9 1932.7 343.9 1939.4 344.4 1945.3C344.9 1951.2 345.5 1953.7 346.3 1962.3C347.1 1970.9 348.2 1985.5 349.1 1997.1C350.0 2008.7 350.8 2020.5 351.7 2032.0C352.6 2043.5 353.5 2054.5 354.5 2066.0C355.5 2077.5 356.8 2091.8 357.6 2100.8C358.4 2109.8 358.4 2111.9 359.1 2120.0C359.8 2128.1 360.6 2135.5 361.7 2149.2C362.8 2162.9 364.5 2185.0 365.9 2202.0C367.3 2219.0 368.6 2234.8 370.1 2251.2C371.6 2267.6 373.4 2287.8 374.7 2300.4C376.0 2313.0 376.7 2319.5 378.2 2326.8C379.7 2334.1 381.1 2339.0 383.5 2344.4C385.9 2349.8 388.5 2355.4 392.3 2359.5C396.1 2363.6 404.0 2367.4 406.3 2369.0" fill="none" stroke="#000" stroke-width="1.45" stroke-dasharray="17.9 17" stroke-dashoffset="0"/>
<path d="M147.9 2371.8C156.7 2371.0 186.5 2368.7 200.6 2367.2C214.7 2365.7 224.7 2364.2 232.3 2363.0C239.9 2361.8 243.2 2361.5 246.4 2360.2C249.6 2358.8 250.0 2356.9 251.6 2354.9C253.2 2352.9 255.1 2349.8 256.2 2347.9C257.3 2346.0 257.7 2344.4 258.0 2343.7C259.0 2343.5 261.7 2344.2 263.9 2342.6C266.1 2340.9 268.4 2337.6 271.0 2333.8C273.6 2330.0 276.9 2324.8 279.8 2319.8C282.7 2314.8 286.0 2310.7 288.6 2303.9C291.2 2297.2 293.0 2289.9 295.6 2279.3C298.2 2268.8 301.8 2252.9 304.4 2240.6C307.0 2228.3 309.5 2216.0 311.4 2205.5C313.3 2195.0 314.4 2189.1 315.6 2177.4C316.8 2165.7 317.8 2145.6 318.4 2135.2C319.0 2124.8 318.9 2121.1 319.2 2115.0C319.5 2108.9 319.6 2103.3 320.1 2098.5C320.6 2093.7 321.0 2090.8 322.0 2086.1C323.0 2081.4 324.6 2076.8 325.9 2070.6C327.2 2064.4 328.5 2055.9 329.7 2049.0C330.9 2042.0 332.0 2035.1 332.8 2028.9C333.6 2022.7 334.3 2016.2 334.7 2011.8C335.1 2007.4 334.4 2010.6 335.1 2002.6C335.8 1994.6 337.6 1976.8 339.0 1963.9C340.4 1951.0 342.1 1937.8 343.7 1925.2C345.2 1912.6 347.0 1898.9 348.3 1888.1C349.6 1877.3 350.8 1866.8 351.7 1860.2C352.6 1853.6 353.1 1851.0 353.7 1848.6C354.3 1846.2 354.7 1845.9 355.3 1846.0C355.9 1846.1 356.5 1846.0 357.1 1849.4C357.7 1852.8 358.2 1859.7 358.8 1866.4C359.4 1873.1 360.1 1883.4 360.7 1889.6C361.3 1895.8 361.7 1900.5 362.2 1903.5C362.7 1906.5 363.1 1907.9 363.8 1907.9C364.5 1907.9 365.3 1905.5 366.1 1903.5C366.9 1901.5 368.0 1897.5 368.7 1895.8C369.4 1894.1 369.9 1893.2 370.4 1893.5C370.9 1893.8 371.1 1893.2 371.5 1897.4C371.9 1901.7 372.3 1908.7 373.1 1919.0C373.9 1929.3 374.8 1944.2 376.1 1959.2C377.4 1974.2 379.2 1991.7 380.8 2008.7C382.4 2025.7 384.0 2046.4 385.4 2061.4C386.8 2076.4 388.3 2088.7 389.3 2098.5C390.3 2108.3 390.4 2109.2 391.2 2120.0C392.0 2130.8 392.6 2146.1 394.0 2163.3C395.4 2180.5 397.5 2203.2 399.3 2223.1C401.1 2243.0 402.8 2267.6 404.6 2282.8C406.4 2298.0 408.4 2306.3 409.9 2314.5C411.4 2322.7 411.9 2327.1 413.4 2332.1C414.9 2337.1 416.6 2340.6 418.7 2344.4C420.8 2348.2 423.1 2351.6 425.7 2354.9C428.3 2358.2 431.6 2361.9 434.5 2364.4C437.4 2366.9 440.7 2368.8 443.3 2370.0C445.9 2371.2 449.1 2371.5 450.3 2371.8" fill="none" stroke="#000" stroke-width="1.45"/>
<rect x="38.6" y="1790.5" width="575.9" height="581.6" fill="none" stroke="#000" stroke-width="1.9"/>
<line x1="30.0" y1="2370.3" x2="38.6" y2="2370.3" stroke-width="1.5"/>
<line x1="30.0" y1="2342.7" x2="38.6" y2="2342.7" stroke-width="1.5"/>
<line x1="30.0" y1="2315.1" x2="38.6" y2="2315.1" stroke-width="1.5"/>
<line x1="30.0" y1="2287.5" x2="38.6" y2="2287.5" stroke-width="1.5"/>
<line x1="30.0" y1="2259.9" x2="38.6" y2="2259.9" stroke-width="1.5"/>
<line x1="30.0" y1="2232.3" x2="38.6" y2="2232.3" stroke-width="1.5"/>
<line x1="30.0" y1="2204.7" x2="38.6" y2="2204.7" stroke-width="1.5"/>
<line x1="30.0" y1="2177.0" x2="38.6" y2="2177.0" stroke-width="1.5"/>
<line x1="30.0" y1="2149.4" x2="38.6" y2="2149.4" stroke-width="1.5"/>
<line x1="30.0" y1="2121.8" x2="38.6" y2="2121.8" stroke-width="1.5"/>
<line x1="30.0" y1="2094.2" x2="38.6" y2="2094.2" stroke-width="1.5"/>
<line x1="30.0" y1="2066.6" x2="38.6" y2="2066.6" stroke-width="1.5"/>
<line x1="30.0" y1="2039.0" x2="38.6" y2="2039.0" stroke-width="1.5"/>
<line x1="30.0" y1="2011.4" x2="38.6" y2="2011.4" stroke-width="1.5"/>
<line x1="30.0" y1="1983.8" x2="38.6" y2="1983.8" stroke-width="1.5"/>
<line x1="30.0" y1="1956.2" x2="38.6" y2="1956.2" stroke-width="1.5"/>
<line x1="30.0" y1="1928.6" x2="38.6" y2="1928.6" stroke-width="1.5"/>
<line x1="30.0" y1="1901.0" x2="38.6" y2="1901.0" stroke-width="1.5"/>
<line x1="30.0" y1="1873.4" x2="38.6" y2="1873.4" stroke-width="1.5"/>
<line x1="30.0" y1="1845.7" x2="38.6" y2="1845.7" stroke-width="1.5"/>
<line x1="30.0" y1="1818.1" x2="38.6" y2="1818.1" stroke-width="1.5"/>
<line x1="30.0" y1="1790.5" x2="38.6" y2="1790.5" stroke-width="1.5"/>
<line x1="52.1" y1="2372.1" x2="52.1" y2="2377.3" stroke-width="1.5"/>
<line x1="70.9" y1="2372.1" x2="70.9" y2="2377.3" stroke-width="1.5"/>
<line x1="93.0" y1="2372.1" x2="93.0" y2="2377.3" stroke-width="1.5"/>
<line x1="192.4" y1="2372.1" x2="192.4" y2="2377.3" stroke-width="1.5"/>
<line x1="212.6" y1="2372.1" x2="212.6" y2="2377.3" stroke-width="1.5"/>
<line x1="230.2" y1="2372.1" x2="230.2" y2="2377.3" stroke-width="1.5"/>
<line x1="260.0" y1="2372.1" x2="260.0" y2="2377.3" stroke-width="1.5"/>
<line x1="271.2" y1="2372.1" x2="271.2" y2="2377.3" stroke-width="1.5"/>
<line x1="280.4" y1="2372.1" x2="280.4" y2="2377.3" stroke-width="1.5"/>
<line x1="288.9" y1="2372.1" x2="288.9" y2="2377.3" stroke-width="1.5"/>
<line x1="346.5" y1="2372.1" x2="346.5" y2="2377.3" stroke-width="1.5"/>
<line x1="373.5" y1="2372.1" x2="373.5" y2="2377.3" stroke-width="1.5"/>
<line x1="393.6" y1="2372.1" x2="393.6" y2="2377.3" stroke-width="1.5"/>
<line x1="419.2" y1="2372.1" x2="419.2" y2="2377.3" stroke-width="1.5"/>
<line x1="427.6" y1="2372.1" x2="427.6" y2="2377.3" stroke-width="1.5"/>
<line x1="435.9" y1="2372.1" x2="435.9" y2="2377.3" stroke-width="1.5"/>
<line x1="443.0" y1="2372.1" x2="443.0" y2="2377.3" stroke-width="1.5"/>
<line x1="492.5" y1="2372.1" x2="492.5" y2="2377.3" stroke-width="1.5"/>
<line x1="517.6" y1="2372.1" x2="517.6" y2="2377.3" stroke-width="1.5"/>
<line x1="535.4" y1="2372.1" x2="535.4" y2="2377.3" stroke-width="1.5"/>
<line x1="561.3" y1="2372.1" x2="561.3" y2="2377.3" stroke-width="1.5"/>
<line x1="569.9" y1="2372.1" x2="569.9" y2="2377.3" stroke-width="1.5"/>
<line x1="576.5" y1="2372.1" x2="576.5" y2="2377.3" stroke-width="1.5"/>
<line x1="583.5" y1="2372.1" x2="583.5" y2="2377.3" stroke-width="1.5"/>
<line x1="244.7" y1="2372.1" x2="244.7" y2="2380.9" stroke-width="1.6"/>
<line x1="297.1" y1="2372.1" x2="297.1" y2="2380.9" stroke-width="1.6"/>
<line x1="406.1" y1="2372.1" x2="406.1" y2="2380.9" stroke-width="1.6"/>
<line x1="448.8" y1="2372.1" x2="448.8" y2="2380.9" stroke-width="1.6"/>
<line x1="548.1" y1="2372.1" x2="548.1" y2="2380.9" stroke-width="1.6"/>
<line x1="589.3" y1="2372.1" x2="589.3" y2="2380.9" stroke-width="1.6"/>
<rect x="114.7" y="2370.6" width="19.5" height="7.7" fill="#000" stroke="none"/>
<rect x="114.7" y="2372.1" width="3.6" height="14.3" fill="#000" stroke="none"/>
<rect x="126.6" y="2372.1" width="3.7" height="8.3" fill="#000" stroke="none"/>
<rect x="137.7" y="2372.1" width="7.4" height="14.3" fill="#000" stroke="none"/>
<rect x="148.7" y="2372.1" width="19.4" height="6.2" fill="#000" stroke="none"/>
<rect x="152.9" y="2372.1" width="3.4" height="8.3" fill="#000" stroke="none"/>
<rect x="164.4" y="2372.1" width="3.7" height="14.3" fill="#000" stroke="none"/>
<text transform="translate(162.0 2421.8) scale(1 1.05)" font-size="33.3" text-anchor="middle">0</text>
<text transform="translate(278.5 2421.8) scale(1 1.05)" font-size="33.3">10<tspan font-size="18.5" dy="-10.4">3</tspan></text>
<text transform="translate(429.2 2421.8) scale(1 1.05)" font-size="33.3">10<tspan font-size="18.5" dy="-10.4">4</tspan></text>
<text transform="translate(570.7 2421.8) scale(1 1.05)" font-size="33.3">10<tspan font-size="18.5" dy="-10.4">5</tspan></text>
<text transform="translate(576.9 1843.9) scale(1 1.05)" font-size="33.3" text-anchor="end">2.2<tspan font-style="italic">%</tspan></text>
</g>
<g id="hist5">
<path d="M735.2 2372.0C741.1 2371.3 758.6 2369.5 770.3 2367.8C782.0 2366.1 793.8 2364.4 805.5 2361.8C817.2 2359.2 830.6 2355.7 840.6 2352.0C850.6 2348.3 858.8 2344.0 865.3 2339.6C871.8 2335.2 874.9 2330.9 879.3 2325.6C883.7 2320.3 888.1 2315.0 891.6 2308.0C895.1 2301.0 897.8 2293.4 900.4 2283.4C903.0 2273.4 905.1 2261.7 907.5 2248.2C909.9 2234.7 912.2 2218.9 914.5 2202.5C916.8 2186.1 919.5 2165.0 921.5 2149.8C923.5 2134.6 924.8 2125.2 926.8 2111.1C928.8 2097.0 930.9 2083.2 933.4 2065.3C935.9 2047.4 939.4 2021.5 941.9 2003.4C944.4 1985.4 946.3 1971.2 948.1 1957.0C949.9 1942.8 951.2 1930.7 952.7 1918.3C954.2 1905.9 955.9 1893.3 957.4 1882.7C958.9 1872.1 960.6 1862.1 962.0 1854.9C963.4 1847.7 964.6 1843.5 965.9 1839.4C967.2 1835.3 968.6 1831.7 969.7 1830.1C970.9 1828.5 971.8 1829.0 972.8 1829.8C973.8 1830.6 975.0 1832.4 975.9 1834.8C976.8 1837.2 977.3 1839.2 978.2 1844.0C979.1 1848.8 980.5 1857.5 981.3 1863.4C982.1 1869.3 982.4 1873.8 982.9 1879.6C983.4 1885.4 983.8 1891.8 984.4 1898.2C985.0 1904.7 986.1 1909.8 986.8 1918.3C987.4 1926.8 987.7 1938.9 988.3 1949.2C988.9 1959.5 989.7 1969.9 990.6 1980.2C991.5 1990.5 992.7 1999.5 993.7 2011.1C994.7 2022.7 995.8 2037.4 996.8 2049.8C997.8 2062.2 999.1 2075.9 999.9 2085.4C1000.7 2094.9 1000.5 2094.5 1001.5 2107.0C1002.5 2119.5 1004.3 2141.5 1005.9 2160.3C1007.5 2179.2 1009.4 2201.9 1011.2 2220.1C1013.0 2238.3 1014.8 2254.7 1016.5 2269.3C1018.2 2284.0 1020.0 2297.4 1021.7 2308.0C1023.5 2318.6 1025.2 2326.2 1027.0 2332.6C1028.8 2339.0 1029.7 2342.3 1032.3 2346.7C1034.9 2351.1 1038.4 2355.8 1042.8 2359.0C1047.2 2362.2 1052.7 2364.1 1058.6 2366.0C1064.5 2367.9 1074.8 2369.5 1078.0 2370.2" fill="none" stroke="#000" stroke-width="1.45" stroke-dasharray="17.9 17" stroke-dashoffset="0"/>
<path d="M802.0 2372.0C808.4 2371.5 829.5 2370.2 840.6 2368.8C851.7 2367.4 860.6 2365.8 868.8 2363.6C877.0 2361.4 883.4 2359.2 889.9 2355.5C896.4 2351.8 902.5 2346.1 907.5 2341.4C912.5 2336.7 916.9 2331.1 919.8 2327.3C922.7 2323.5 923.0 2325.3 925.0 2318.6C927.0 2311.9 929.5 2298.6 932.1 2286.9C934.8 2275.2 938.0 2260.5 940.9 2248.2C943.8 2235.9 947.3 2221.9 949.6 2213.1C951.9 2204.3 953.1 2204.3 954.9 2195.5C956.7 2186.7 958.6 2172.0 960.2 2160.3C961.8 2148.6 963.5 2133.6 964.4 2125.2C965.3 2116.8 964.8 2118.7 965.6 2110.0C966.4 2101.3 967.8 2084.3 969.0 2073.0C970.2 2061.7 971.4 2050.6 972.8 2042.1C974.2 2033.6 976.2 2029.7 977.2 2022.0C978.2 2014.3 978.4 2005.2 979.0 1995.7C979.6 1986.2 980.2 1975.0 980.6 1964.7C981.0 1954.4 981.0 1940.2 981.3 1933.8C981.5 1927.3 981.6 1927.4 982.1 1926.0C982.6 1924.6 983.6 1926.2 984.4 1925.3C985.2 1924.4 986.3 1922.9 987.1 1920.6C987.9 1918.3 988.4 1913.4 989.1 1911.3C989.8 1909.2 990.4 1909.2 991.4 1908.2C992.4 1907.2 994.0 1907.3 995.3 1905.1C996.6 1902.9 997.8 1899.6 999.1 1895.1C1000.4 1890.6 1002.2 1883.2 1003.0 1878.1C1003.8 1872.9 1003.4 1867.2 1003.8 1864.2C1004.2 1861.2 1004.7 1859.9 1005.3 1859.8C1005.9 1859.7 1006.4 1859.3 1007.2 1863.4C1008.0 1867.5 1008.9 1875.2 1010.0 1884.3C1011.1 1893.4 1012.5 1904.9 1013.8 1918.3C1015.1 1931.7 1016.7 1950.5 1017.7 1964.7C1018.7 1978.9 1019.4 1991.8 1020.0 2003.4C1020.6 2015.0 1020.8 2022.7 1021.6 2034.3C1022.4 2045.9 1023.7 2063.2 1024.7 2073.0C1025.7 2082.8 1026.9 2086.9 1027.8 2093.1C1028.7 2099.3 1029.3 2104.7 1030.1 2110.0C1030.8 2115.3 1031.3 2113.9 1032.3 2125.2C1033.2 2136.5 1034.3 2160.3 1035.8 2177.9C1037.3 2195.5 1039.3 2214.2 1041.1 2230.6C1042.8 2247.0 1044.7 2263.5 1046.3 2276.4C1047.9 2289.3 1049.1 2299.2 1050.9 2308.0C1052.7 2316.8 1054.4 2322.4 1056.9 2329.1C1059.4 2335.8 1062.5 2342.8 1065.7 2348.4C1068.9 2354.0 1072.7 2359.0 1076.2 2362.5C1079.7 2366.0 1083.3 2367.9 1086.8 2369.5C1090.3 2371.1 1095.5 2371.6 1097.3 2372.0" fill="none" stroke="#000" stroke-width="1.45"/>
<rect x="675.2" y="1790.5" width="575.8" height="581.6" fill="none" stroke="#000" stroke-width="1.9"/>
<line x1="666.6" y1="2370.3" x2="675.2" y2="2370.3" stroke-width="1.5"/>
<line x1="666.6" y1="2342.7" x2="675.2" y2="2342.7" stroke-width="1.5"/>
<line x1="666.6" y1="2315.1" x2="675.2" y2="2315.1" stroke-width="1.5"/>
<line x1="666.6" y1="2287.5" x2="675.2" y2="2287.5" stroke-width="1.5"/>
<line x1="666.6" y1="2259.9" x2="675.2" y2="2259.9" stroke-width="1.5"/>
<line x1="666.6" y1="2232.3" x2="675.2" y2="2232.3" stroke-width="1.5"/>
<line x1="666.6" y1="2204.7" x2="675.2" y2="2204.7" stroke-width="1.5"/>
<line x1="666.6" y1="2177.0" x2="675.2" y2="2177.0" stroke-width="1.5"/>
<line x1="666.6" y1="2149.4" x2="675.2" y2="2149.4" stroke-width="1.5"/>
<line x1="666.6" y1="2121.8" x2="675.2" y2="2121.8" stroke-width="1.5"/>
<line x1="666.6" y1="2094.2" x2="675.2" y2="2094.2" stroke-width="1.5"/>
<line x1="666.6" y1="2066.6" x2="675.2" y2="2066.6" stroke-width="1.5"/>
<line x1="666.6" y1="2039.0" x2="675.2" y2="2039.0" stroke-width="1.5"/>
<line x1="666.6" y1="2011.4" x2="675.2" y2="2011.4" stroke-width="1.5"/>
<line x1="666.6" y1="1983.8" x2="675.2" y2="1983.8" stroke-width="1.5"/>
<line x1="666.6" y1="1956.2" x2="675.2" y2="1956.2" stroke-width="1.5"/>
<line x1="666.6" y1="1928.6" x2="675.2" y2="1928.6" stroke-width="1.5"/>
<line x1="666.6" y1="1901.0" x2="675.2" y2="1901.0" stroke-width="1.5"/>
<line x1="666.6" y1="1873.4" x2="675.2" y2="1873.4" stroke-width="1.5"/>
<line x1="666.6" y1="1845.7" x2="675.2" y2="1845.7" stroke-width="1.5"/>
<line x1="666.6" y1="1818.1" x2="675.2" y2="1818.1" stroke-width="1.5"/>
<line x1="666.6" y1="1790.5" x2="675.2" y2="1790.5" stroke-width="1.5"/>
<line x1="688.7" y1="2372.1" x2="688.7" y2="2377.3" stroke-width="1.5"/>
<line x1="707.5" y1="2372.1" x2="707.5" y2="2377.3" stroke-width="1.5"/>
<line x1="729.6" y1="2372.1" x2="729.6" y2="2377.3" stroke-width="1.5"/>
<line x1="829.0" y1="2372.1" x2="829.0" y2="2377.3" stroke-width="1.5"/>
<line x1="849.2" y1="2372.1" x2="849.2" y2="2377.3" stroke-width="1.5"/>
<line x1="866.8" y1="2372.1" x2="866.8" y2="2377.3" stroke-width="1.5"/>
<line x1="896.5" y1="2372.1" x2="896.5" y2="2377.3" stroke-width="1.5"/>
<line x1="907.7" y1="2372.1" x2="907.7" y2="2377.3" stroke-width="1.5"/>
<line x1="916.9" y1="2372.1" x2="916.9" y2="2377.3" stroke-width="1.5"/>
<line x1="925.5" y1="2372.1" x2="925.5" y2="2377.3" stroke-width="1.5"/>
<line x1="983.0" y1="2372.1" x2="983.0" y2="2377.3" stroke-width="1.5"/>
<line x1="1010.1" y1="2372.1" x2="1010.1" y2="2377.3" stroke-width="1.5"/>
<line x1="1030.2" y1="2372.1" x2="1030.2" y2="2377.3" stroke-width="1.5"/>
<line x1="1055.7" y1="2372.1" x2="1055.7" y2="2377.3" stroke-width="1.5"/>
<line x1="1064.2" y1="2372.1" x2="1064.2" y2="2377.3" stroke-width="1.5"/>
<line x1="1072.5" y1="2372.1" x2="1072.5" y2="2377.3" stroke-width="1.5"/>
<line x1="1079.5" y1="2372.1" x2="1079.5" y2="2377.3" stroke-width="1.5"/>
<line x1="1129.0" y1="2372.1" x2="1129.0" y2="2377.3" stroke-width="1.5"/>
<line x1="1154.1" y1="2372.1" x2="1154.1" y2="2377.3" stroke-width="1.5"/>
<line x1="1171.9" y1="2372.1" x2="1171.9" y2="2377.3" stroke-width="1.5"/>
<line x1="1197.8" y1="2372.1" x2="1197.8" y2="2377.3" stroke-width="1.5"/>
<line x1="1206.4" y1="2372.1" x2="1206.4" y2="2377.3" stroke-width="1.5"/>
<line x1="1213.0" y1="2372.1" x2="1213.0" y2="2377.3" stroke-width="1.5"/>
<line x1="1220.0" y1="2372.1" x2="1220.0" y2="2377.3" stroke-width="1.5"/>
<line x1="881.3" y1="2372.1" x2="881.3" y2="2380.9" stroke-width="1.6"/>
<line x1="933.7" y1="2372.1" x2="933.7" y2="2380.9" stroke-width="1.6"/>
<line x1="1042.7" y1="2372.1" x2="1042.7" y2="2380.9" stroke-width="1.6"/>
<line x1="1085.4" y1="2372.1" x2="1085.4" y2="2380.9" stroke-width="1.6"/>
<line x1="1184.6" y1="2372.1" x2="1184.6" y2="2380.9" stroke-width="1.6"/>
<line x1="1225.8" y1="2372.1" x2="1225.8" y2="2380.9" stroke-width="1.6"/>
<rect x="751.3" y="2370.6" width="19.5" height="7.7" fill="#000" stroke="none"/>
<rect x="751.3" y="2372.1" width="3.6" height="14.3" fill="#000" stroke="none"/>
<rect x="763.2" y="2372.1" width="3.7" height="8.3" fill="#000" stroke="none"/>
<rect x="774.3" y="2372.1" width="7.4" height="14.3" fill="#000" stroke="none"/>
<rect x="785.3" y="2372.1" width="19.4" height="6.2" fill="#000" stroke="none"/>
<rect x="789.5" y="2372.1" width="3.4" height="8.3" fill="#000" stroke="none"/>
<rect x="801.0" y="2372.1" width="3.7" height="14.3" fill="#000" stroke="none"/>
<text transform="translate(800.8 2421.8) scale(1 1.05)" font-size="33.3" text-anchor="middle">0</text>
<text transform="translate(915.8 2421.8) scale(1 1.05)" font-size="33.3">10<tspan font-size="18.5" dy="-10.4">3</tspan></text>
<text transform="translate(1066.2 2421.8) scale(1 1.05)" font-size="33.3">10<tspan font-size="18.5" dy="-10.4">4</tspan></text>
<text transform="translate(1208.2 2421.8) scale(1 1.05)" font-size="33.3">10<tspan font-size="18.5" dy="-10.4">5</tspan></text>
<text transform="translate(1214.0 1843.9) scale(1 1.05)" font-size="33.3" text-anchor="end">1.5<tspan font-style="italic">%</tspan></text>
</g>
<g id="hist6">
<path d="M1361.7 2371.5C1367.9 2370.9 1386.3 2369.6 1399.1 2368.0C1411.9 2366.4 1427.3 2364.1 1438.5 2362.1C1449.7 2360.1 1458.8 2358.2 1466.0 2356.2C1473.2 2354.2 1476.5 2353.6 1481.8 2350.3C1487.0 2347.0 1492.9 2342.1 1497.5 2336.5C1502.1 2330.9 1505.8 2323.7 1509.4 2316.8C1513.0 2309.9 1515.9 2303.3 1519.2 2295.1C1522.5 2286.9 1526.1 2278.7 1529.1 2267.5C1532.0 2256.3 1534.3 2242.0 1536.9 2228.2C1539.5 2214.4 1542.0 2199.2 1544.8 2184.8C1547.6 2170.4 1551.2 2154.8 1553.5 2141.5C1555.8 2128.2 1556.6 2117.5 1558.5 2105.0C1560.4 2092.5 1563.1 2078.4 1564.7 2066.3C1566.3 2054.2 1567.0 2043.8 1568.1 2032.5C1569.2 2021.2 1570.4 2009.5 1571.5 1998.8C1572.6 1988.1 1573.9 1976.3 1574.9 1968.4C1575.9 1960.5 1576.7 1957.0 1577.4 1951.5C1578.1 1946.0 1578.8 1938.2 1579.1 1935.5C1579.8 1934.2 1582.0 1930.6 1583.3 1927.9C1584.6 1925.2 1585.8 1924.0 1586.7 1919.5C1587.6 1915.0 1588.2 1907.1 1588.9 1900.9C1589.7 1894.7 1590.4 1888.1 1591.2 1882.3C1592.0 1876.5 1593.1 1870.4 1593.9 1866.3C1594.7 1862.2 1595.4 1859.4 1596.0 1857.8C1596.6 1856.2 1597.0 1856.2 1597.6 1856.5C1598.1 1856.8 1598.6 1855.8 1599.3 1859.5C1600.0 1863.2 1601.3 1872.6 1601.9 1878.9C1602.5 1885.2 1602.4 1891.6 1602.7 1897.5C1603.0 1903.4 1603.5 1909.1 1603.9 1914.4C1604.3 1919.8 1604.5 1924.0 1604.9 1929.6C1605.3 1935.2 1605.9 1942.2 1606.4 1948.1C1606.9 1954.0 1607.4 1959.1 1608.1 1965.0C1608.8 1970.9 1609.6 1978.0 1610.3 1983.6C1611.0 1989.2 1611.3 1993.2 1612.0 1998.8C1612.7 2004.4 1613.5 2011.7 1614.2 2017.3C1615.0 2022.9 1615.8 2026.9 1616.5 2032.5C1617.2 2038.1 1617.8 2045.5 1618.7 2051.1C1619.6 2056.7 1620.9 2060.4 1621.8 2066.3C1622.7 2072.2 1623.3 2080.3 1624.1 2086.5C1624.8 2092.7 1625.6 2097.8 1626.3 2103.4C1627.0 2109.0 1626.8 2109.4 1628.0 2120.3C1629.2 2131.2 1631.7 2153.1 1633.4 2169.1C1635.2 2185.1 1636.8 2199.9 1638.5 2216.3C1640.2 2232.7 1641.5 2252.4 1643.3 2267.5C1645.1 2282.6 1647.2 2295.7 1649.2 2306.9C1651.2 2318.1 1652.8 2326.3 1655.1 2334.5C1657.4 2342.7 1660.7 2350.9 1663.0 2356.2C1665.3 2361.4 1666.6 2363.6 1668.9 2366.0C1671.2 2368.4 1671.5 2369.7 1676.7 2370.4C1681.9 2371.2 1670.8 2370.5 1700.0 2370.5C1729.2 2370.5 1826.7 2370.5 1852.0 2370.5" fill="none" stroke="#000" stroke-width="1.45" stroke-dasharray="17.9 17" stroke-dashoffset="0"/>
<path d="M1458.2 2371.5C1464.8 2371.1 1487.7 2370.2 1497.5 2369.2C1507.3 2368.1 1512.7 2366.7 1517.2 2365.2C1521.7 2363.7 1522.3 2362.3 1524.3 2360.1C1526.3 2357.9 1527.6 2354.2 1529.1 2352.2C1530.5 2350.2 1531.0 2349.3 1533.0 2348.3C1535.0 2347.3 1538.0 2348.1 1540.9 2346.3C1543.9 2344.5 1548.4 2340.9 1550.7 2337.6C1553.0 2334.3 1552.4 2332.4 1554.7 2326.6C1557.0 2320.8 1561.5 2310.9 1564.5 2303.0C1567.5 2295.1 1570.4 2286.6 1572.4 2279.4C1574.4 2272.2 1575.2 2267.6 1576.3 2259.7C1577.4 2251.8 1578.1 2241.9 1579.1 2232.1C1580.1 2222.2 1580.7 2210.1 1582.2 2200.6C1583.7 2191.1 1585.9 2182.6 1588.1 2175.0C1590.3 2167.4 1594.0 2158.6 1595.2 2155.3C1595.4 2151.1 1595.9 2137.9 1596.3 2130.1C1596.7 2122.3 1597.1 2114.3 1597.6 2108.5C1598.1 2102.7 1598.2 2101.5 1599.3 2095.0C1600.4 2088.5 1602.9 2078.1 1604.4 2069.7C1606.0 2061.2 1607.6 2051.9 1608.6 2044.3C1609.6 2036.7 1609.7 2031.7 1610.3 2024.1C1610.9 2016.5 1611.3 2007.2 1612.0 1998.8C1612.7 1990.4 1613.6 1982.0 1614.5 1973.5C1615.4 1965.0 1616.8 1955.1 1617.6 1948.1C1618.4 1941.1 1619.0 1935.1 1619.6 1931.3C1620.2 1927.5 1620.7 1926.8 1621.3 1925.4C1621.9 1924.1 1622.5 1923.4 1623.3 1923.2C1624.1 1923.0 1625.1 1925.1 1626.0 1924.5C1626.9 1923.9 1628.2 1923.2 1628.9 1919.5C1629.7 1915.8 1630.0 1909.4 1630.5 1902.6C1631.0 1895.8 1631.6 1885.1 1632.2 1878.9C1632.8 1872.7 1633.5 1867.9 1633.9 1865.4C1634.3 1862.9 1634.4 1863.4 1634.8 1863.8C1635.2 1864.2 1635.5 1864.6 1636.1 1868.0C1636.6 1871.4 1637.3 1879.2 1638.1 1884.0C1638.9 1888.8 1639.7 1893.2 1640.7 1896.7C1641.7 1900.2 1643.2 1903.3 1644.1 1905.1C1645.0 1906.9 1645.5 1907.7 1646.2 1907.6C1646.9 1907.5 1647.6 1905.1 1648.3 1904.3C1649.0 1903.5 1649.7 1902.3 1650.3 1902.6C1650.9 1902.9 1651.1 1902.8 1652.0 1905.9C1652.9 1909.0 1654.8 1916.3 1655.9 1921.1C1657.0 1925.9 1657.9 1929.0 1658.7 1934.6C1659.5 1940.2 1660.1 1947.0 1660.9 1954.9C1661.7 1962.8 1662.7 1973.8 1663.5 1981.9C1664.3 1990.1 1664.5 1996.8 1665.5 2003.8C1666.5 2010.8 1668.1 2017.1 1669.4 2024.1C1670.7 2031.1 1672.1 2039.0 1673.2 2046.0C1674.3 2053.0 1675.3 2061.2 1676.1 2066.3C1676.9 2071.4 1676.8 2072.8 1677.8 2076.4C1678.8 2080.1 1680.6 2083.7 1682.0 2088.2C1683.4 2092.7 1685.1 2098.6 1686.2 2103.4C1687.3 2108.2 1687.9 2111.9 1688.8 2116.9C1689.7 2121.9 1691.0 2128.2 1691.7 2133.6C1692.4 2139.0 1692.1 2145.8 1692.9 2149.4C1693.7 2153.0 1695.0 2153.7 1696.4 2155.3C1697.9 2156.9 1700.5 2156.2 1701.6 2159.2C1702.7 2162.1 1702.0 2164.1 1703.1 2173.0C1704.2 2181.9 1705.8 2199.9 1708.3 2212.4C1710.8 2224.9 1714.8 2237.3 1718.1 2247.8C1721.4 2258.3 1725.6 2267.5 1728.0 2275.4C1730.4 2283.3 1731.3 2286.9 1732.7 2295.1C1734.1 2303.3 1735.1 2318.5 1736.6 2324.7C1738.1 2330.9 1739.2 2329.2 1741.7 2332.5C1744.2 2335.8 1749.0 2340.6 1751.6 2344.3C1754.2 2348.1 1755.2 2352.0 1757.5 2355.0C1759.8 2358.0 1761.5 2359.9 1765.4 2362.1C1769.3 2364.3 1775.2 2366.6 1781.1 2368.0C1787.0 2369.4 1794.9 2370.1 1800.8 2370.7C1806.7 2371.3 1814.0 2371.4 1816.6 2371.5" fill="none" stroke="#000" stroke-width="1.45"/>
<rect x="1302.2" y="1790.5" width="575.8" height="581.6" fill="none" stroke="#000" stroke-width="1.9"/>
<line x1="1293.6" y1="2370.3" x2="1302.2" y2="2370.3" stroke-width="1.5"/>
<line x1="1293.6" y1="2342.7" x2="1302.2" y2="2342.7" stroke-width="1.5"/>
<line x1="1293.6" y1="2315.1" x2="1302.2" y2="2315.1" stroke-width="1.5"/>
<line x1="1293.6" y1="2287.5" x2="1302.2" y2="2287.5" stroke-width="1.5"/>
<line x1="1293.6" y1="2259.9" x2="1302.2" y2="2259.9" stroke-width="1.5"/>
<line x1="1293.6" y1="2232.3" x2="1302.2" y2="2232.3" stroke-width="1.5"/>
<line x1="1293.6" y1="2204.7" x2="1302.2" y2="2204.7" stroke-width="1.5"/>
<line x1="1293.6" y1="2177.0" x2="1302.2" y2="2177.0" stroke-width="1.5"/>
<line x1="1293.6" y1="2149.4" x2="1302.2" y2="2149.4" stroke-width="1.5"/>
<line x1="1293.6" y1="2121.8" x2="1302.2" y2="2121.8" stroke-width="1.5"/>
<line x1="1293.6" y1="2094.2" x2="1302.2" y2="2094.2" stroke-width="1.5"/>
<line x1="1293.6" y1="2066.6" x2="1302.2" y2="2066.6" stroke-width="1.5"/>
<line x1="1293.6" y1="2039.0" x2="1302.2" y2="2039.0" stroke-width="1.5"/>
<line x1="1293.6" y1="2011.4" x2="1302.2" y2="2011.4" stroke-width="1.5"/>
<line x1="1293.6" y1="1983.8" x2="1302.2" y2="1983.8" stroke-width="1.5"/>
<line x1="1293.6" y1="1956.2" x2="1302.2" y2="1956.2" stroke-width="1.5"/>
<line x1="1293.6" y1="1928.6" x2="1302.2" y2="1928.6" stroke-width="1.5"/>
<line x1="1293.6" y1="1901.0" x2="1302.2" y2="1901.0" stroke-width="1.5"/>
<line x1="1293.6" y1="1873.4" x2="1302.2" y2="1873.4" stroke-width="1.5"/>
<line x1="1293.6" y1="1845.7" x2="1302.2" y2="1845.7" stroke-width="1.5"/>
<line x1="1293.6" y1="1818.1" x2="1302.2" y2="1818.1" stroke-width="1.5"/>
<line x1="1293.6" y1="1790.5" x2="1302.2" y2="1790.5" stroke-width="1.5"/>
<line x1="1315.7" y1="2372.1" x2="1315.7" y2="2377.3" stroke-width="1.5"/>
<line x1="1334.5" y1="2372.1" x2="1334.5" y2="2377.3" stroke-width="1.5"/>
<line x1="1356.6" y1="2372.1" x2="1356.6" y2="2377.3" stroke-width="1.5"/>
<line x1="1456.0" y1="2372.1" x2="1456.0" y2="2377.3" stroke-width="1.5"/>
<line x1="1476.2" y1="2372.1" x2="1476.2" y2="2377.3" stroke-width="1.5"/>
<line x1="1493.8" y1="2372.1" x2="1493.8" y2="2377.3" stroke-width="1.5"/>
<line x1="1523.5" y1="2372.1" x2="1523.5" y2="2377.3" stroke-width="1.5"/>
<line x1="1534.7" y1="2372.1" x2="1534.7" y2="2377.3" stroke-width="1.5"/>
<line x1="1543.9" y1="2372.1" x2="1543.9" y2="2377.3" stroke-width="1.5"/>
<line x1="1552.5" y1="2372.1" x2="1552.5" y2="2377.3" stroke-width="1.5"/>
<line x1="1610.0" y1="2372.1" x2="1610.0" y2="2377.3" stroke-width="1.5"/>
<line x1="1637.1" y1="2372.1" x2="1637.1" y2="2377.3" stroke-width="1.5"/>
<line x1="1657.2" y1="2372.1" x2="1657.2" y2="2377.3" stroke-width="1.5"/>
<line x1="1682.7" y1="2372.1" x2="1682.7" y2="2377.3" stroke-width="1.5"/>
<line x1="1691.2" y1="2372.1" x2="1691.2" y2="2377.3" stroke-width="1.5"/>
<line x1="1699.5" y1="2372.1" x2="1699.5" y2="2377.3" stroke-width="1.5"/>
<line x1="1706.5" y1="2372.1" x2="1706.5" y2="2377.3" stroke-width="1.5"/>
<line x1="1756.0" y1="2372.1" x2="1756.0" y2="2377.3" stroke-width="1.5"/>
<line x1="1781.1" y1="2372.1" x2="1781.1" y2="2377.3" stroke-width="1.5"/>
<line x1="1798.9" y1="2372.1" x2="1798.9" y2="2377.3" stroke-width="1.5"/>
<line x1="1824.8" y1="2372.1" x2="1824.8" y2="2377.3" stroke-width="1.5"/>
<line x1="1833.4" y1="2372.1" x2="1833.4" y2="2377.3" stroke-width="1.5"/>
<line x1="1840.0" y1="2372.1" x2="1840.0" y2="2377.3" stroke-width="1.5"/>
<line x1="1847.0" y1="2372.1" x2="1847.0" y2="2377.3" stroke-width="1.5"/>
<line x1="1508.3" y1="2372.1" x2="1508.3" y2="2380.9" stroke-width="1.6"/>
<line x1="1560.7" y1="2372.1" x2="1560.7" y2="2380.9" stroke-width="1.6"/>
<line x1="1669.7" y1="2372.1" x2="1669.7" y2="2380.9" stroke-width="1.6"/>
<line x1="1712.4" y1="2372.1" x2="1712.4" y2="2380.9" stroke-width="1.6"/>
<line x1="1811.6" y1="2372.1" x2="1811.6" y2="2380.9" stroke-width="1.6"/>
<line x1="1852.8" y1="2372.1" x2="1852.8" y2="2380.9" stroke-width="1.6"/>
<rect x="1378.3" y="2370.6" width="19.5" height="7.7" fill="#000" stroke="none"/>
<rect x="1378.3" y="2372.1" width="3.6" height="14.3" fill="#000" stroke="none"/>
<rect x="1390.2" y="2372.1" width="3.7" height="8.3" fill="#000" stroke="none"/>
<rect x="1401.3" y="2372.1" width="7.4" height="14.3" fill="#000" stroke="none"/>
<rect x="1412.3" y="2372.1" width="19.4" height="6.2" fill="#000" stroke="none"/>
<rect x="1416.5" y="2372.1" width="3.4" height="8.3" fill="#000" stroke="none"/>
<rect x="1428.0" y="2372.1" width="3.7" height="14.3" fill="#000" stroke="none"/>
<text transform="translate(1423.1 2421.8) scale(1 1.05)" font-size="33.3" text-anchor="middle">0</text>
<text transform="translate(1539.6 2421.8) scale(1 1.05)" font-size="33.3">10<tspan font-size="18.5" dy="-10.4">3</tspan></text>
<text transform="translate(1689.0 2421.8) scale(1 1.05)" font-size="33.3">10<tspan font-size="18.5" dy="-10.4">4</tspan></text>
<text transform="translate(1830.8 2421.8) scale(1 1.05)" font-size="33.3">10<tspan font-size="18.5" dy="-10.4">5</tspan></text>
<text transform="translate(1843.2 1843.9) scale(1 1.05)" font-size="33.3" text-anchor="end">16.3<tspan font-style="italic">%</tspan></text>
</g>
<text transform="translate(1920.4 1414) rotate(-90) scale(1 1.03)" font-size="33.5" font-weight="bold" text-anchor="middle">PD-1</text>
<text transform="translate(1920.4 2081.5) rotate(-90) scale(1 1.03)" font-size="33.5" font-weight="bold" text-anchor="middle">TIM3</text>
<text transform="translate(18.7 2088) rotate(-90) scale(1 1.03)" font-size="33.5" font-weight="bold" text-anchor="middle">Events</text>
<text transform="translate(428.9 2458.3) scale(1 1.03)" font-size="33.6" font-weight="bold" text-anchor="middle">Surface Receptor</text>
<path d="M1.5 2170 V2447.3 H262" fill="none" stroke="#000" stroke-width="2.0"/>
<path d="M1.5 2152.5 L11.2 2178.8 L-8.2 2178.8Z" fill="#000"/>
<path d="M282.8 2447.3 L256.4 2437.4 L256.4 2457.2Z" fill="#000"/>
</g>
<g id="panelC">
<text transform="translate(395.7 2531.6) scale(1 0.976)" font-size="53.8" font-weight="bold">C</text>
<line x1="610.0" y1="3110.7" x2="610.0" y2="3221.0" stroke-width="2.0"/>
<line x1="595.7" y1="3110.7" x2="624.3" y2="3110.7" stroke-width="2.0"/>
<rect x="575.2" y="3220.0" width="69.6" height="163.0" fill="#969696" stroke="none"/>
<line x1="721.2" y1="3027.0" x2="721.2" y2="3186.8" stroke-width="2.0"/>
<line x1="707.0" y1="3027.0" x2="735.5" y2="3027.0" stroke-width="2.0"/>
<rect x="686.5" y="3185.8" width="69.5" height="197.2" fill="#000" stroke="none"/>
<line x1="833.9" y1="2665.5" x2="833.9" y2="2826.0" stroke-width="2.0"/>
<line x1="819.6" y1="2665.5" x2="848.1" y2="2665.5" stroke-width="2.0"/>
<rect x="799.0" y="2825.0" width="69.7" height="557.0" fill="#fff" stroke="#000" stroke-width="2.0"/>
<line x1="1022.0" y1="2961.7" x2="1022.0" y2="3145.2" stroke-width="2.0"/>
<line x1="1007.7" y1="2961.7" x2="1036.2" y2="2961.7" stroke-width="2.0"/>
<rect x="986.9" y="3144.2" width="70.1" height="238.8" fill="#969696" stroke="none"/>
<line x1="1133.5" y1="2913.1" x2="1133.5" y2="3114.0" stroke-width="2.0"/>
<line x1="1119.2" y1="2913.1" x2="1147.8" y2="2913.1" stroke-width="2.0"/>
<rect x="1098.5" y="3113.0" width="70.0" height="270.0" fill="#000" stroke="none"/>
<line x1="1245.9" y1="2780.8" x2="1245.9" y2="2932.8" stroke-width="2.0"/>
<line x1="1231.6" y1="2780.8" x2="1260.2" y2="2780.8" stroke-width="2.0"/>
<rect x="1211.1" y="2931.8" width="69.7" height="450.2" fill="#fff" stroke="#000" stroke-width="2.0"/>
<rect x="516.8" y="2551.0" width="822.5" height="831.0" fill="none" stroke="#000" stroke-width="2.1"/>
<line x1="504.8" y1="2551.0" x2="516.8" y2="2551.0" stroke-width="2.1"/>
<text transform="translate(494.6 2557.6) scale(1 1.05)" font-size="33.3" text-anchor="end">40</text>
<line x1="504.8" y1="2764.8" x2="516.8" y2="2764.8" stroke-width="2.1"/>
<text transform="translate(494.6 2767.6) scale(1 1.05)" font-size="33.3" text-anchor="end">30</text>
<line x1="504.8" y1="2966.2" x2="516.8" y2="2966.2" stroke-width="2.1"/>
<text transform="translate(494.6 2977.6) scale(1 1.05)" font-size="33.3" text-anchor="end">20</text>
<line x1="504.8" y1="3168.7" x2="516.8" y2="3168.7" stroke-width="2.1"/>
<text transform="translate(494.6 3187.6) scale(1 1.05)" font-size="33.3" text-anchor="end">10</text>
<line x1="504.8" y1="3382.0" x2="516.8" y2="3382.0" stroke-width="2.1"/>
<text transform="translate(494.6 3397.6) scale(1 1.05)" font-size="33.3" text-anchor="end">0</text>
<line x1="720.9" y1="3382.0" x2="720.9" y2="3394.5" stroke-width="2.1"/>
<line x1="1133.2" y1="3382.0" x2="1133.2" y2="3394.5" stroke-width="2.1"/>
<text transform="translate(720.6 3431.1) scale(1 1.05)" font-size="33.3" text-anchor="middle">PD-1</text>
<text transform="translate(1134.4 3431.1) scale(1 1.05)" font-size="33.3" text-anchor="middle">TIM3</text>
<text transform="translate(930 3474.0) scale(1 1.03)" font-size="33.6" font-weight="bold" text-anchor="middle">E/T ratio</text>
<text transform="translate(423.3 3071.3) rotate(-90) scale(1 1.05)" font-size="33.4" font-weight="bold">Positive cells <tspan x="189.1" font-weight="normal" font-size="32.5">(</tspan><tspan x="201.5" font-weight="normal" font-style="italic" font-size="35">%</tspan><tspan x="232.9" font-weight="normal" font-size="32.5">)</tspan></text>
<line x1="587.9" y1="2558.0" x2="822.4" y2="2558.0" stroke-width="2.0"/>
<line x1="700.8" y1="2630.8" x2="827.2" y2="2630.8" stroke-width="2.0"/>
<text transform="translate(705.0 2517.3) rotate(90) scale(0.92 1.055)" x="0" y="21.7" font-size="46" font-weight="bold" text-anchor="middle">*</text>
<text transform="translate(765.9 2598.6) rotate(90) scale(0.92 1.055)" x="0" y="21.7" font-size="46" font-weight="bold" text-anchor="middle">*</text>
</g>
</svg>
</body></html>
